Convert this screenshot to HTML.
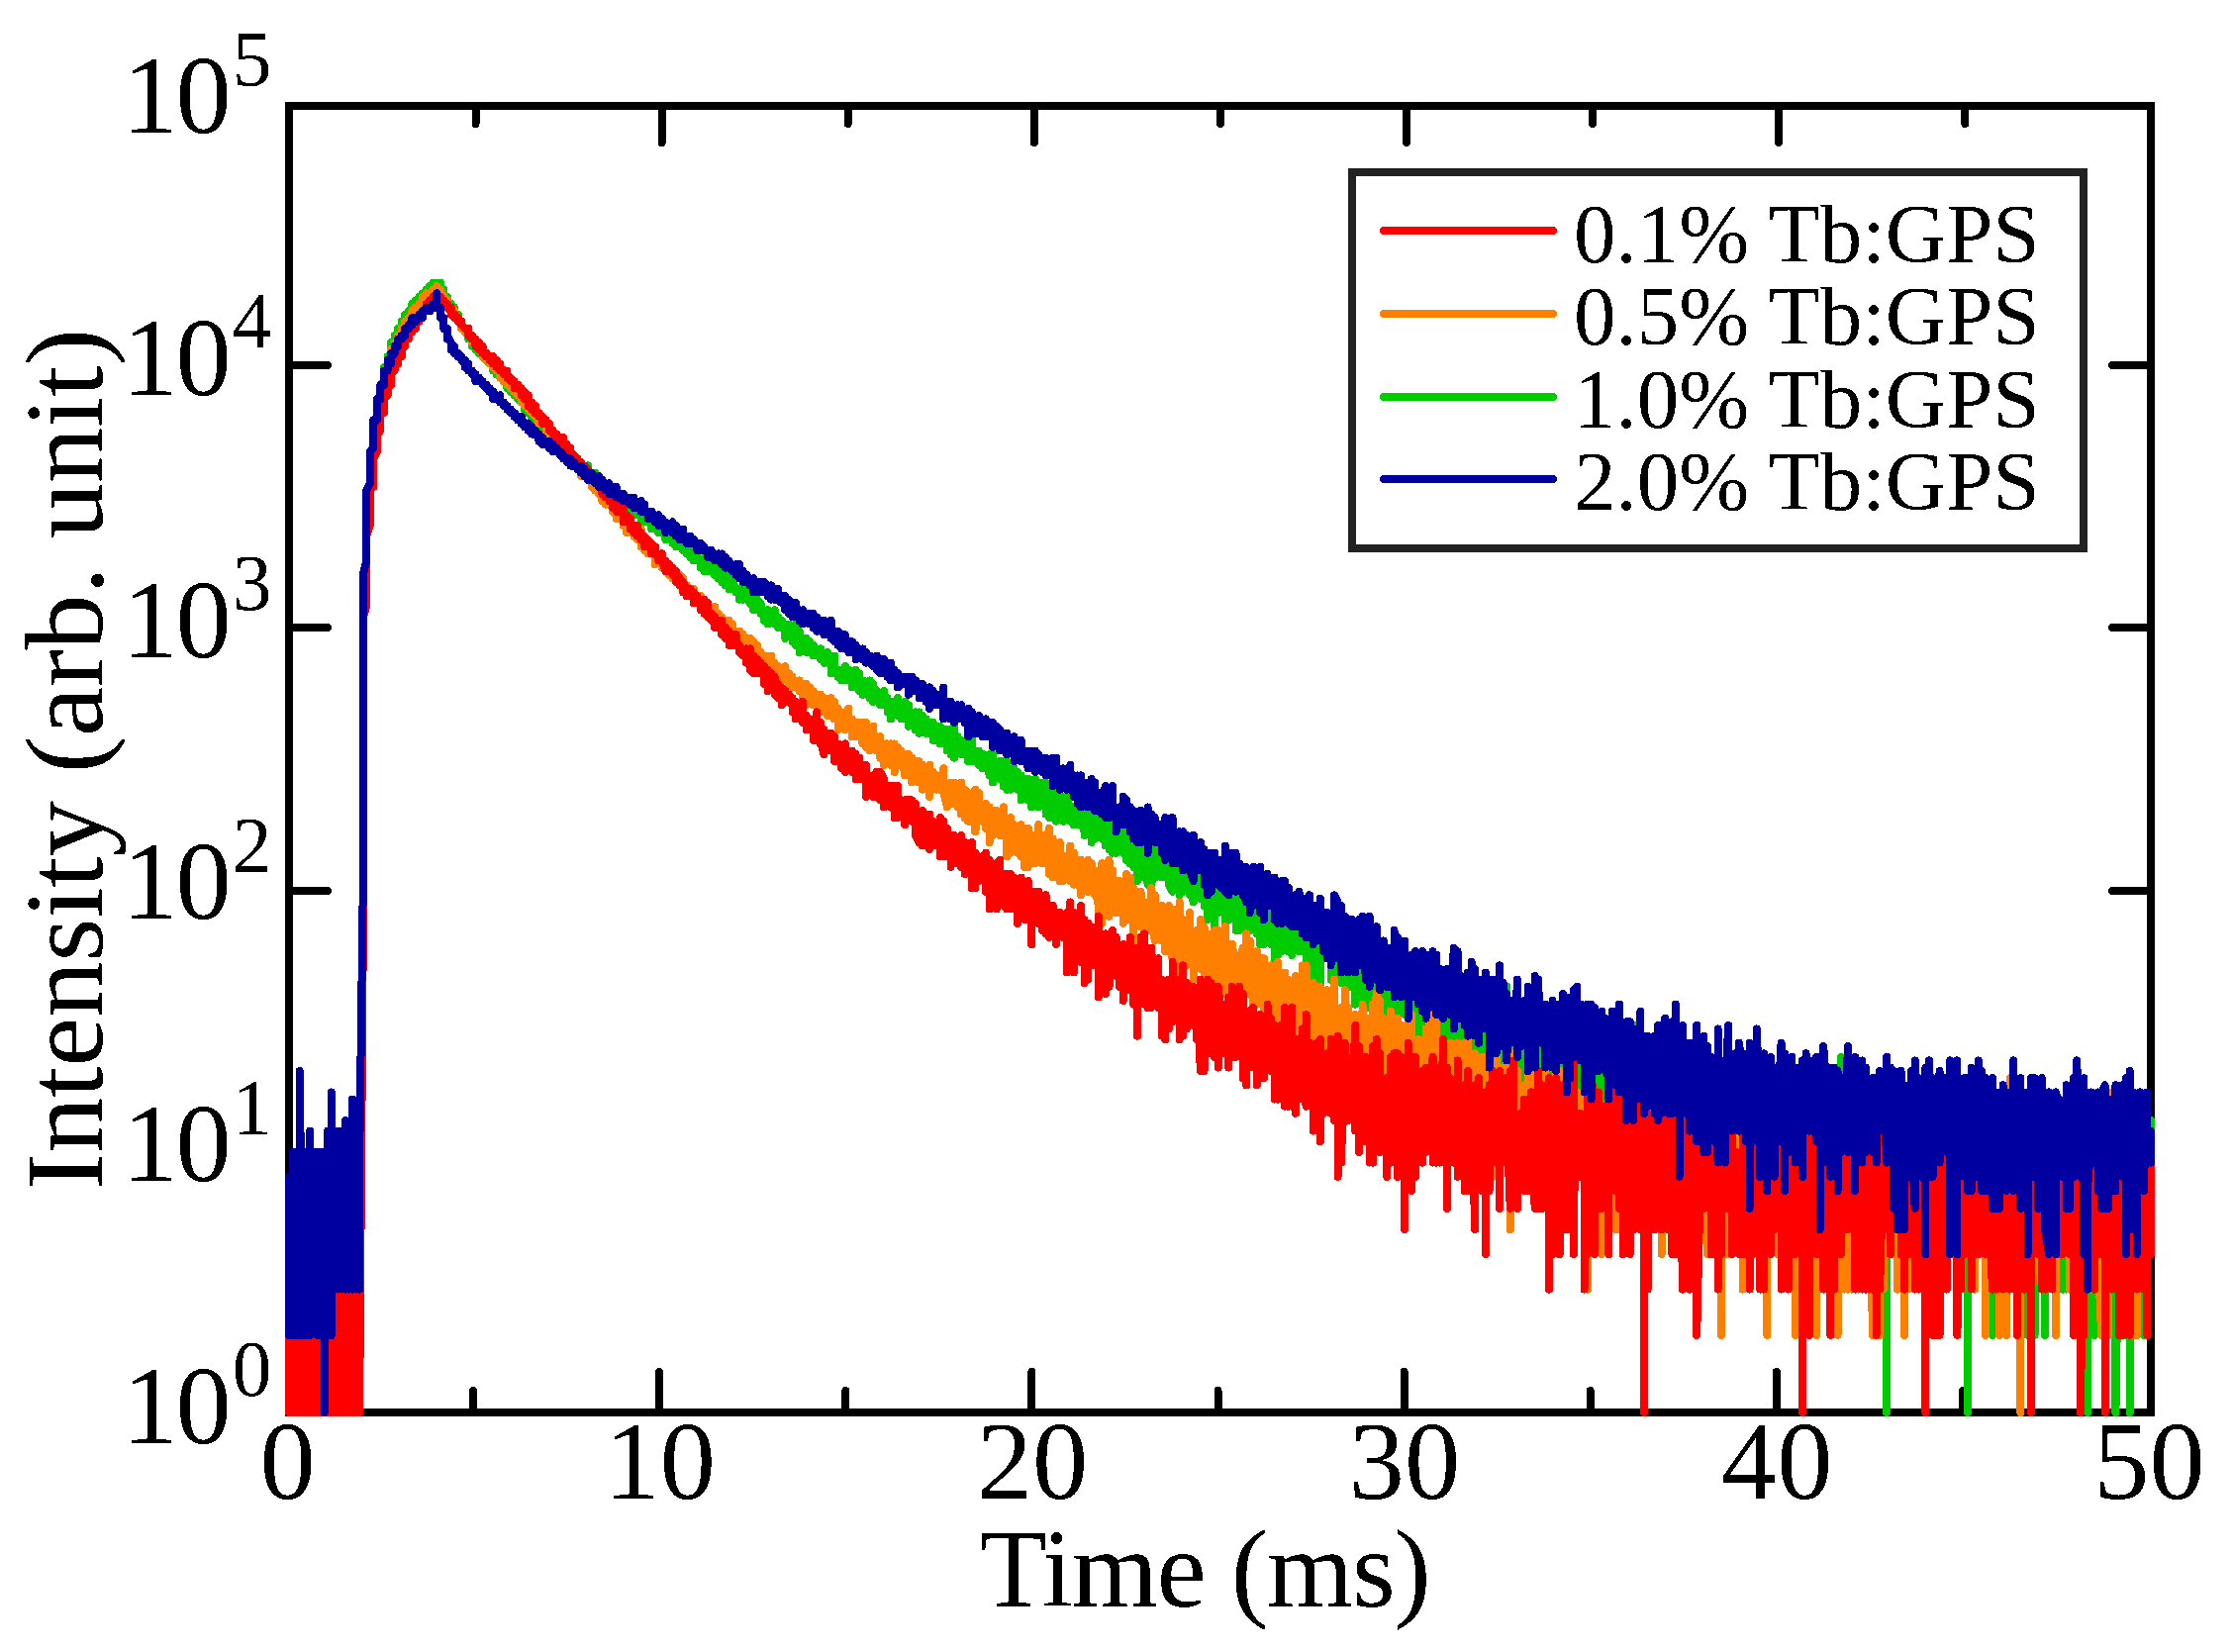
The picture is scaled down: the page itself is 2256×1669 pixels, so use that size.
<!DOCTYPE html>
<html lang="en"><head><meta charset="utf-8"><title>Tb:GPS decay curves</title>
<style>html,body{margin:0;padding:0;background:#fff}svg{display:block}</style></head>
<body>
<svg width="2256" height="1669" viewBox="0 0 2256 1669">
<rect width="2256" height="1669" fill="#fff"/>
<g fill="none" stroke="#000" stroke-width="8" stroke-linecap="round" shape-rendering="crispEdges">
<rect x="292" y="107" width="1881" height="1320" stroke-linejoin="miter"/>
<path d="M480.5 107 V125 M478.1 1427 V1405"/>
<path d="M668.6 107 V144 M666.2 1427 V1386"/>
<path d="M856.7 107 V125 M854.3 1427 V1405"/>
<path d="M1044.8 107 V144 M1042.4 1427 V1386"/>
<path d="M1232.9 107 V125 M1230.5 1427 V1405"/>
<path d="M1421.0 107 V144 M1418.6 1427 V1386"/>
<path d="M1609.1 107 V125 M1606.7 1427 V1405"/>
<path d="M1797.2 107 V144 M1794.8 1427 V1386"/>
<path d="M1985.3 107 V125 M1982.9 1427 V1405"/>
<path d="M292 1165 h39 M2173 1165 h-39"/>
<path d="M292 900 h39 M2173 900 h-39"/>
<path d="M292 634 h39 M2173 634 h-39"/>
<path d="M292 369 h39 M2173 369 h-39"/>
</g>
<clipPath id="c"><rect x="288" y="103" width="1889" height="1328"/></clipPath>
<g clip-path="url(#c)" fill="none" stroke-width="8" stroke-linejoin="round" stroke-linecap="round" shape-rendering="crispEdges">
<path stroke="#00CC00" d="M292 1427H295.6V1302.6V1427L299.1 1348.8V1427V1348.8L302.7 1427V1302.6V1348.8L306.2 1427V1302.6L309.8 1427V1302.6V1427H313.3V1348.8V1427L316.9 1348.8V1427V1267L320.4 1427V1348.8L324 1427V1267V1302.6L327.6 1348.8V1427V1302.6V1427H331.1V1348.8L334.7 1427H338.2V1242.1V1427H341.8V1348.8V1427H345.3V1242.1V1427H348.9V1348.8V1427H352.4V1242.1V1427H356V1348.8V1427H359.6H363.1V1267V1427L366.7 890.1V584.3L370.2 573.7V495.4L373.8 491.9V459.9L377.3 449.2V424.3H380.9V403L384.4 399.4V388.8L388 385.2V371H391.6V360.3H395.1V346.1V349.7H398.7V339V342.5L402.2 339V331.9H405.8V324.8H409.3V317.7H412.9V314.1L416.4 310.5V307V310.5L420 307V303.4V307L423.6 303.4V299.9H427.1V296.3H430.7V292.8H434.2V289.2H437.8V285.7V289.2L441.3 285.7V289.2V285.7H444.9V292.8H448.4V299.9H452V307H455.6V314.1L459.1 310.5V317.7H462.7V324.8H466.2V331.9H469.8V335.4L473.3 339V342.5H476.9V349.7V346.1L480.4 349.7V346.1V353.2H484V356.8H487.6V360.3L491.1 363.9V360.3V363.9L494.7 367.4V363.9V367.4H498.2V374.5H501.8V378.1H505.3V381.7H508.9V385.2H512.4V392.3H516V395.9V392.3H519.6V399.4V395.9L523.1 403V399.4V403L526.7 406.5V403V406.5H530.2V413.7H533.8V417.2L537.3 413.7V424.3V417.2L540.9 420.8V424.3H544.4V427.9L548 431.4V427.9V431.4L551.6 435V431.4V435H555.1V442.1V438.5H558.7V445.7V442.1L562.2 445.7V449.2V445.7H565.8V452.8V449.2L569.3 452.8V456.3H572.9V452.8V459.9L576.4 456.3V463.4H580V459.9V467V463.4H583.6V470.5V467H587.1V470.5H590.7V474.1L594.2 470.5V477.7H597.8V481.2L601.3 477.7V488.3L604.9 484.8V481.2V488.3V484.8L608.4 488.3V484.8V488.3L612 491.9V488.3V495.4H615.6V491.9V499V495.4H619.1V499V495.4L622.7 502.5V495.4V502.5H626.2V499V506.1V502.5H629.8V513.2V502.5L633.3 506.1V509.7H636.9V513.2L640.4 509.7V516.8V513.2L644 516.8V513.2V520.3V516.8H647.6V523.9V520.3L651.1 523.9V520.3V527.4V520.3L654.7 523.9V527.4V523.9L658.2 527.4V523.9V534.5L661.8 527.4V531H665.3V538.1V531H668.9V538.1V534.5H672.4V531V545.2L676 538.1V534.5V545.2L679.6 541.7V548.8V538.1V545.2H683.1V541.7V552.3V545.2H686.7V552.3H690.2V555.9V545.2V555.9L693.8 552.3V559.4V555.9L697.3 552.3V563V559.4L700.9 555.9V566.5V559.4L704.4 563V559.4V566.5V563L708 570.1V566.5V573.7L711.6 563V577.2V570.1L715.1 577.2V570.1V573.7H718.7V577.2L722.2 573.7V580.8V577.2L725.8 580.8V570.1V584.3V580.8H729.3V587.9V584.3H732.9V591.4V580.8L736.5 584.3V595V580.8V584.3L740 595V587.9L743.6 595V598.5V595H747.1V605.7V602.1L750.7 598.5V595V605.7L754.2 602.1V605.7V598.5V602.1L757.8 605.7V609.2V602.1V609.2L761.3 612.8V602.1V616.3V609.2H764.9V605.7V616.3V612.8L768.5 609.2V619.9V616.3H772V627V619.9H775.6V616.3V630.5V619.9H779.1V627V619.9L782.7 623.4V616.3V630.5L786.2 627V623.4V634.1V627L789.8 630.5V627V634.1V630.5L793.3 634.1V644.8V630.5V637.7L796.9 634.1V641.2V630.5V637.7L800.5 634.1V648.3L804 641.2V630.5V651.9V644.8L807.6 648.3V659V637.7V644.8L811.1 648.3V644.8V655.4V648.3L814.7 644.8V659V655.4L818.2 651.9V648.3V659V655.4H821.8V651.9V662.5L825.3 659V655.4V662.5H828.9V666.1V655.4V659L832.5 669.7V662.5L836 669.7V659V662.5L839.6 666.1V680.3V676.8L843.1 673.2V662.5V680.3V673.2L846.7 680.3V683.9V676.8V680.3L850.2 676.8V687.4V683.9L853.8 680.3V673.2V687.4V676.8L857.3 680.3V676.8V687.4V683.9L860.9 687.4V680.3V694.5V687.4L864.5 676.8V694.5L868 687.4V680.3V698.1V687.4L871.6 694.5V687.4V701.7L875.1 698.1V701.7V691V698.1H878.7V687.4V705.2L882.2 698.1V708.8V691V694.5L885.8 698.1V705.2V698.1L889.3 701.7V712.3L892.9 708.8V698.1V712.3L896.5 708.8V719.4V705.2V708.8L900 723V708.8V726.5V723L903.6 712.3V708.8V715.9V712.3H907.1V705.2V723V719.4H910.7V712.3V726.5V723L914.2 708.8V726.5V723L917.8 719.4V712.3V733.7V719.4L921.3 723V730.1H924.9V719.4V737.2V726.5L928.5 730.1V719.4V740.8V733.7L932 737.2V723V730.1L935.6 733.7V726.5V740.8V733.7H939.1V740.8V730.1V733.7L942.7 730.1V747.9V733.7L946.2 744.3V737.2V747.9V737.2L949.8 740.8V733.7V751.4V747.9H953.3V751.4V737.2V751.4L956.9 744.3V737.2V758.5V751.4L960.5 740.8V737.2V762.1L964 751.4V733.7V765.7V762.1L967.6 758.5V744.3V758.5H971.1V747.9V762.1V747.9L974.7 758.5V762.1V751.4L978.2 747.9V769.2V758.5L981.8 755V769.2V744.3V758.5L985.3 769.2V758.5V762.1L988.9 765.7V772.8V758.5V769.2H992.5V776.3V762.1V776.3L996 765.7V776.3V765.7L999.6 783.4V762.1V772.8L1003.1 783.4V762.1V790.5V783.4L1006.7 772.8V779.9V776.3L1010.2 783.4V787V769.2V779.9L1013.8 772.8V794.1V769.2H1017.3V797.7V783.4L1020.9 790.5V797.7V779.9V790.5L1024.5 783.4V776.3V794.1L1028 790.5V779.9V797.7V787L1031.6 797.7V783.4V808.3L1035.1 787V801.2V787L1038.7 794.1V808.3V787L1042.2 801.2V794.1V815.4V804.8L1045.8 794.1V811.9V787V794.1L1049.3 811.9V797.7V815.4V808.3L1052.9 801.2V808.3V790.5V804.8H1056.5V822.5V790.5L1060 797.7V826.1V804.8L1063.6 808.3V797.7V826.1L1067.1 801.2V787V829.7V801.2L1070.7 804.8V819V811.9H1074.2V829.7V804.8L1077.8 811.9V826.1V804.8L1081.3 819V829.7V819L1084.9 826.1V815.4V833.2L1088.5 826.1V811.9V833.2L1092 804.8V829.7L1095.6 840.3V811.9V843.9V840.3H1099.1V815.4V833.2H1102.7V851V822.5V826.1L1106.2 843.9V829.7V847.4V840.3L1109.8 829.7V843.9V826.1L1113.3 829.7V822.5V847.4L1116.9 851V854.5V822.5L1120.5 851V829.7V858.1V854.5L1124 833.2V861.7V829.7V840.3H1127.6V833.2V861.7V847.4H1131.1V840.3V858.1V851L1134.7 847.4V861.7V843.9L1138.2 851V833.2V868.8V854.5L1141.8 840.3V872.3V854.5L1145.3 851V875.9V843.9L1148.9 861.7V843.9V890.1V865.2L1152.5 843.9V886.5V861.7L1156 879.4V851V886.5V868.8L1159.6 893.7V847.4V858.1L1163.1 865.2V836.8V893.7L1166.7 875.9V886.5V858.1V868.8L1170.2 865.2V883V843.9V883L1173.8 872.3V865.2V886.5V875.9L1177.3 883V886.5V868.8L1180.9 858.1V893.7L1184.5 900.8V868.8V897.2L1188 875.9V872.3V893.7V886.5H1191.6V865.2V904.3V893.7L1195.1 886.5V872.3V900.8V893.7H1198.7V872.3V883H1202.2V879.4V904.3V897.2L1205.8 911.4V868.8V890.1L1209.3 886.5V900.8V868.8L1212.9 875.9V907.9V890.1L1216.5 893.7V872.3V915V875.9L1220 883V929.2V890.1L1223.6 886.5V918.5V883V890.1L1227.1 893.7V936.3V886.5L1230.7 922.1V890.1V915L1234.2 918.5V893.7V900.8L1237.8 904.3V943.4V900.8L1241.3 918.5V897.2V929.2V904.3L1244.9 900.8V922.1V893.7V915H1248.5V939.9V886.5L1252 897.2V939.9V911.4L1255.6 918.5V907.9V936.3V929.2L1259.1 932.8V893.7V925.7H1262.7V907.9V939.9V929.2L1266.2 915V932.8V907.9V911.4L1269.8 943.4V907.9V911.4L1273.3 915V954.1V932.8L1276.9 925.7V954.1V911.4V932.8L1280.5 925.7V922.1V939.9V922.1L1284 943.4V954.1V900.8V929.2L1287.6 922.1V968.3V918.5V929.2H1291.1V922.1V964.8L1294.7 939.9V929.2V961.2L1298.2 957.7V918.5V947L1301.8 939.9V929.2V961.2V954.1L1305.3 947V918.5V964.8L1308.9 947V932.8V950.5V939.9L1312.5 961.2V915V929.2L1316 954.1V961.2V925.7V950.5L1319.6 932.8V971.9V932.8L1323.1 939.9V989.7V957.7L1326.7 939.9V929.2V975.4V947L1330.2 961.2V996.8V918.5V964.8L1333.8 943.4V925.7V1000.3V961.2L1337.3 954.1V939.9V964.8V947L1340.9 943.4V968.3V954.1L1344.5 964.8V939.9V989.7V975.4L1348 961.2V943.4V982.5V947H1351.6V979V971.9L1355.1 968.3V950.5V993.2V971.9H1358.7V939.9V989.7V975.4L1362.2 971.9V996.8V950.5V964.8H1365.8V996.8V954.1L1369.3 943.4V1014.6V993.2L1372.9 996.8V947V1000.3V975.4H1376.5V1014.6V961.2V979L1380 968.3V964.8V1011V971.9L1383.6 986.1V954.1V1018.1L1387.1 1007.4V961.2V1018.1V979L1390.7 1018.1V947V975.4L1394.2 979V1011V964.8L1397.8 1003.9V986.1V1039.4V1000.3L1401.3 982.5V961.2V1021.7V982.5L1404.9 993.2V982.5V1046.6L1408.5 1000.3V964.8V989.7L1412 1000.3V982.5V1035.9V1028.8L1415.6 1014.6V989.7V1003.9H1419.1V975.4V1025.2L1422.7 964.8V1035.9V1028.8L1426.2 986.1V1046.6V979V1000.3L1429.8 1003.9V989.7V1078.6V1014.6L1433.3 989.7V1046.6V986.1L1436.9 1011V989.7V1057.2V1018.1L1440.5 1014.6V989.7V1018.1V1014.6L1444 1000.3V1057.2L1447.6 1050.1V982.5V996.8L1451.1 1053.7V993.2V1021.7L1454.7 1053.7V1007.4V1014.6L1458.2 1007.4V989.7V1067.9V1046.6H1461.8V1067.9V996.8V1021.7L1465.3 989.7V1053.7V1021.7L1468.9 1039.4V1007.4V1050.1V1039.4L1472.5 1014.6V996.8V1050.1V1021.7L1476 1035.9V1064.3V1018.1V1039.4L1479.6 1014.6V989.7V1064.3L1483.1 1025.2V1000.3V1082.1V1011L1486.7 1071.4V1014.6V1078.6V1018.1L1490.2 1064.3V1014.6V1025.2L1493.8 1028.8V1003.9V1057.2V1021.7L1497.3 1028.8V1067.9V996.8V1018.1L1500.9 1028.8V1007.4V1089.2L1504.5 1046.6V1028.8V1078.6V1064.3L1508 1014.6V1071.4V1057.2L1511.6 1014.6V1103.4V993.2L1515.1 1057.2V1071.4V1039.4V1067.9H1518.7V1014.6V1089.2V1078.6L1522.2 1053.7V996.8V1089.2V1046.6H1525.8V1082.1V1028.8L1529.3 1035.9V1089.2V1067.9L1532.9 1071.4V1078.6V1014.6L1536.5 1035.9V1103.4L1540 1078.6V1131.9V1028.8L1543.6 1071.4V1039.4V1153.2L1547.1 1103.4V1021.7V1053.7L1550.7 1089.2V1050.1V1078.6L1554.2 1064.3V1089.2V993.2V1046.6L1557.8 1082.1V1039.4V1110.6L1561.3 1103.4V1028.8V1064.3L1564.9 1050.1V1028.8V1103.4L1568.5 1131.9V1053.7V1067.9L1572 1046.6V1032.3V1110.6V1096.3L1575.6 1110.6V1064.3V1124.8V1082.1L1579.1 1021.7V1103.4V1057.2L1582.7 1064.3V1110.6H1586.2V1028.8V1082.1L1589.8 1064.3V1050.1V1103.4L1593.3 1096.3V1142.6V1050.1L1596.9 1078.6V1124.8V1089.2L1600.5 1078.6V1124.8V1064.3V1067.9L1604 1064.3V1050.1V1153.2V1089.2L1607.6 1064.3V1032.3V1117.7V1096.3L1611.1 1089.2V1057.2V1174.6V1067.9L1614.7 1124.8V1032.3L1618.2 1110.6V1064.3V1142.6V1110.6L1621.8 1053.7V1124.8V1082.1L1625.4 1071.4V1163.9V1103.4L1628.9 1071.4V1053.7V1163.9V1078.6L1632.5 1131.9V1071.4V1117.7L1636 1064.3V1153.2V1096.3L1639.6 1174.6V1064.3V1082.1L1643.1 1089.2V1067.9V1131.9V1096.3L1646.7 1131.9V1153.2V1064.3V1082.1L1650.2 1131.9V1035.9V1096.3L1653.8 1103.4V1163.9V1046.6V1103.4H1657.4V1153.2V1089.2V1096.3L1660.9 1082.1V1124.8V1078.6L1664.5 1082.1V1203L1668 1163.9V1203V1071.4V1153.2L1671.6 1078.6V1188.8V1067.9V1117.7L1675.1 1096.3V1057.2V1188.8V1110.6L1678.7 1131.9V1174.6V1082.1V1103.4H1682.2V1203L1685.8 1110.6V1078.6V1174.6V1103.4L1689.4 1131.9V1103.4V1188.8V1117.7L1692.9 1124.8V1203V1096.3V1131.9L1696.5 1174.6V1067.9V1103.4L1700 1131.9V1082.1V1163.9V1103.4L1703.6 1124.8V1174.6V1110.6V1131.9L1707.1 1117.7V1153.2V1096.3V1124.8L1710.7 1220.8V1096.3V1163.9L1714.2 1131.9V1082.1V1174.6L1717.8 1082.1V1163.9V1142.6L1721.4 1163.9V1203V1096.3V1124.8L1724.9 1220.8V1103.4V1163.9L1728.5 1117.7V1188.8V1153.2L1732 1163.9V1174.6V1096.3L1735.6 1117.7V1067.9V1153.2L1739.1 1203V1078.6V1124.8L1742.7 1188.8V1071.4L1746.2 1163.9V1174.6V1124.8V1131.9L1749.8 1188.8V1096.3V1188.8L1753.4 1082.1V1203V1131.9L1756.9 1220.8V1071.4V1203L1760.5 1174.6V1242.1V1110.6V1242.1L1764 1174.6V1220.8V1110.6V1131.9L1767.6 1188.8V1117.7V1203L1771.1 1153.2V1131.9V1242.1V1220.8L1774.7 1188.8V1096.3V1220.8V1163.9L1778.2 1203V1242.1V1110.6V1124.8L1781.8 1142.6V1103.4V1203V1174.6L1785.4 1142.6V1131.9V1220.8L1788.9 1142.6V1117.7V1220.8L1792.5 1131.9V1203V1117.7V1153.2L1796 1103.4V1089.2V1188.8V1103.4L1799.6 1131.9V1103.4V1220.8V1153.2L1803.1 1174.6V1267V1117.7V1163.9L1806.7 1203V1131.9V1142.6L1810.2 1203V1131.9V1220.8V1174.6L1813.8 1267V1117.7V1242.1L1817.4 1188.8V1110.6V1220.8V1163.9L1820.9 1174.6V1124.8V1267V1174.6H1824.5V1203V1117.7V1174.6L1828 1163.9V1242.1V1103.4V1203L1831.6 1302.6V1096.3V1124.8L1835.1 1203V1131.9V1163.9L1838.7 1203V1117.7V1131.9L1842.2 1174.6V1203V1131.9L1845.8 1163.9V1117.7V1203V1188.8L1849.4 1242.1V1124.8V1188.8L1852.9 1163.9V1131.9V1267L1856.5 1131.9V1242.1V1203L1860 1174.6V1220.8V1067.9V1188.8L1863.6 1220.8V1096.3V1267V1203L1867.1 1174.6V1142.6V1242.1V1163.9L1870.7 1220.8V1153.2V1242.1L1874.2 1163.9V1242.1V1163.9L1877.8 1089.2V1267L1881.4 1174.6V1188.8V1131.9L1884.9 1220.8V1174.6V1267V1174.6L1888.5 1163.9V1242.1V1203L1892 1163.9V1242.1V1220.8H1895.6V1242.1V1131.9V1242.1H1899.1V1124.8V1302.6L1902.7 1220.8V1163.9V1302.6V1203L1906.2 1188.8V1124.8V1427V1163.9L1909.8 1188.8V1153.2V1267V1188.8L1913.4 1203V1153.2V1267V1188.8L1916.9 1131.9V1267L1920.5 1174.6V1124.8V1220.8L1924 1242.1V1131.9V1267V1174.6L1927.6 1188.8V1203V1153.2V1163.9L1931.1 1242.1V1131.9V1188.8L1934.7 1163.9V1267V1142.6V1203H1938.2V1153.2V1302.6V1220.8L1941.8 1242.1V1142.6V1220.8L1945.4 1153.2V1348.8V1242.1L1948.9 1153.2V1267V1124.8V1174.6L1952.5 1188.8V1302.6V1131.9V1220.8L1956 1348.8V1124.8L1959.6 1203V1267V1142.6V1203L1963.1 1174.6V1302.6L1966.7 1203V1153.2V1267V1242.1L1970.2 1220.8V1267V1153.2V1267L1973.8 1220.8V1163.9V1188.8L1977.4 1153.2V1142.6V1267V1174.6L1980.9 1188.8V1302.6V1103.4L1984.5 1163.9V1203V1153.2V1203L1988 1220.8V1427V1153.2V1188.8L1991.6 1153.2V1131.9V1220.8V1203L1995.1 1242.1V1302.6V1142.6L1998.7 1163.9V1153.2V1220.8L2002.2 1188.8V1267V1163.9V1220.8L2005.8 1188.8V1163.9V1267V1174.6L2009.4 1242.1V1131.9V1153.2L2012.9 1163.9V1348.8V1188.8L2016.5 1163.9V1142.6V1267V1242.1L2020 1153.2V1242.1V1174.6L2023.6 1142.6V1302.6V1188.8H2027.1V1348.8V1163.9V1302.6H2030.7V1142.6V1220.8L2034.2 1203V1267V1153.2L2037.8 1302.6V1163.9V1242.1H2041.4V1163.9V1267V1163.9L2044.9 1267V1153.2L2048.5 1174.6V1348.8L2052 1188.8V1267V1142.6V1153.2L2055.6 1174.6V1131.9V1348.8V1203H2059.1V1242.1V1142.6V1242.1L2062.7 1203V1153.2V1242.1L2066.2 1188.8V1348.8V1142.6L2069.8 1242.1V1302.6V1153.2V1203L2073.4 1163.9V1131.9V1220.8V1203L2076.9 1242.1V1188.8V1302.6V1188.8L2080.5 1267V1163.9V1220.8L2084 1302.6V1124.8V1163.9L2087.6 1220.8V1302.6V1142.6V1267L2091.1 1142.6V1267V1188.8L2094.7 1267V1142.6V1163.9L2098.2 1174.6V1142.6V1267V1203L2101.8 1174.6V1302.6V1153.2L2105.4 1174.6V1348.8V1188.8H2108.9V1153.2V1427V1220.8L2112.5 1163.9V1242.1V1203L2116 1188.8V1348.8L2119.6 1242.1V1267V1131.9V1267L2123.1 1188.8V1348.8V1163.9V1188.8L2126.7 1242.1V1267V1131.9V1203L2130.2 1302.6V1163.9L2133.8 1188.8V1267V1163.9V1203L2137.4 1302.6V1153.2V1427L2140.9 1203V1242.1V1131.9V1188.8L2144.5 1174.6V1163.9V1242.1L2148 1153.2V1348.8V1220.8L2151.6 1188.8V1174.6V1427V1203H2155.1V1153.2V1302.6V1242.1L2158.7 1163.9V1267V1142.6L2162.2 1124.8V1242.1L2165.8 1203V1348.8V1153.2V1242.1L2169.4 1142.6V1302.6V1203L2172.9 1131.9V1242.1"/>
<path stroke="#FF8000" d="M292 1427L295.6 1348.8V1427V1267V1427L299.1 1302.6V1427V1267V1427L302.7 1267V1427V1348.8L306.2 1427V1302.6V1427L309.8 1348.8V1302.6V1427V1302.6L313.3 1348.8V1427V1348.8L316.9 1427V1302.6V1427L320.4 1348.8V1427L324 1348.8V1427L327.6 1348.8V1427V1302.6V1427H331.1V1220.8V1427H334.7V1348.8V1427L338.2 1348.8V1427V1242.1V1348.8L341.8 1427V1267V1427L345.3 1302.6V1427L348.9 1302.6V1427V1348.8L352.4 1427V1302.6L356 1348.8V1427V1302.6V1427H359.6V1267L363.1 1427V1348.8V1427L366.7 915V591.4L370.2 584.3V509.7L373.8 502.5V467L377.3 463.4V431.4H380.9V413.7V417.2L384.4 410.1V395.9L388 392.3V378.1H391.6V367.4H395.1V353.2L398.7 356.8V346.1H402.2V339H405.8V331.9H409.3V324.8H412.9V321.2H416.4V314.1V317.7L420 314.1V310.5H423.6V307H427.1V299.9L430.7 303.4V296.3L434.2 299.9V296.3V299.9L437.8 296.3V292.8H441.3V289.2V292.8H444.9V296.3L448.4 299.9V303.4H452V310.5H455.6V314.1H459.1V321.2H462.7V324.8H466.2V331.9H469.8V335.4H473.3V339L476.9 342.5V339V346.1H480.4V349.7H484V353.2H487.6V360.3V356.8L491.1 360.3V356.8V363.9L494.7 360.3V367.4H498.2V371H501.8V374.5H505.3V381.7V378.1H508.9V385.2L512.4 381.7V388.8H516V392.3V388.8L519.6 392.3V395.9H523.1V399.4H526.7V406.5H530.2V410.1H533.8V413.7L537.3 417.2V413.7V417.2L540.9 420.8V417.2V420.8L544.4 424.3V420.8V427.9V424.3H548V427.9H551.6V435H555.1V438.5V435L558.7 438.5V445.7L562.2 442.1V449.2L565.8 445.7V452.8V449.2L569.3 452.8V456.3H572.9V459.9H576.4V467H580V463.4V470.5L583.6 467V474.1V470.5L587.1 474.1V467V481.2L590.7 477.7V481.2H594.2V484.8L597.8 481.2V491.9L601.3 484.8V495.4V491.9H604.9V499V495.4L608.4 499V495.4V506.1V502.5L612 506.1V499V509.7L615.6 506.1V509.7L619.1 513.2V509.7V516.8L622.7 520.3V513.2V523.9V516.8L626.2 520.3V516.8V523.9L629.8 520.3V531V523.9L633.3 531V523.9V538.1V531H636.9V538.1L640.4 534.5V541.7V538.1H644V545.2H647.6V534.5V552.3V545.2L651.1 548.8V545.2V555.9V552.3L654.7 555.9V548.8V559.4V552.3H658.2V559.4H661.8V555.9V570.1V563H665.3V559.4V566.5L668.9 563V573.7V566.5L672.4 570.1V573.7V570.1L676 573.7V570.1V580.8H679.6V584.3V573.7V584.3L683.1 580.8V587.9V584.3L686.7 587.9V580.8V587.9H690.2V584.3V595V591.4L693.8 595V591.4V598.5V595H697.3V602.1V598.5H700.9V609.2V595V605.7H704.4V602.1V609.2V602.1L708 605.7V602.1V616.3V609.2H711.6V619.9V605.7L715.1 616.3V609.2V623.4V612.8L718.7 619.9V616.3V623.4L722.2 612.8V627V619.9L725.8 623.4V619.9V630.5V623.4L729.3 630.5V623.4V634.1V630.5H732.9V627V637.7V634.1H736.5V641.2V627V634.1L740 630.5V641.2V637.7L743.6 651.9V637.7L747.1 644.8V637.7V648.3L750.7 644.8V641.2V651.9V648.3H754.2V655.4V644.8V655.4L757.8 651.9V644.8V659V644.8L761.3 655.4V662.5V648.3L764.9 659V651.9V666.1V655.4L768.5 666.1V659V669.7L772 662.5V673.2V666.1H775.6V676.8V662.5V676.8L779.1 673.2V662.5V676.8L782.7 669.7V680.3V673.2L786.2 676.8V680.3V673.2V680.3H789.8V683.9V676.8L793.3 673.2V687.4V683.9L796.9 691V680.3V683.9L800.5 694.5V683.9V687.4L804 691V694.5V687.4L807.6 698.1V687.4V698.1L811.1 691V705.2V701.7H814.7V691V712.3V701.7L818.2 705.2V694.5V708.8L821.8 705.2V712.3V698.1L825.3 708.8V712.3V701.7V705.2L828.9 715.9V719.4V701.7V708.8L832.5 715.9V719.4V705.2V712.3L836 708.8V723L839.6 719.4V705.2V723V712.3L843.1 708.8V726.5V715.9H846.7V737.2V719.4L850.2 730.1V719.4V733.7V730.1L853.8 719.4V737.2V723L857.3 726.5V733.7V715.9V726.5H860.9V744.3V733.7L864.5 730.1V744.3L868 733.7V740.8V730.1V737.2L871.6 751.4V730.1V747.9L875.1 730.1V755V740.8L878.7 737.2V758.5L882.2 747.9V733.7V751.4V747.9L885.8 755V744.3V758.5V747.9L889.3 751.4V744.3V765.7V758.5L892.9 755V772.8V762.1L896.5 751.4V769.2V751.4L900 755V772.8V751.4V755L903.6 765.7V779.9V751.4V769.2H907.1V772.8V755V769.2L910.7 758.5V772.8L914.2 779.9V783.4V762.1V765.7H917.8V779.9V762.1V776.3L921.3 783.4V765.7V790.5V772.8H924.9V769.2V787V772.8L928.5 783.4V769.2V790.5V772.8H932V797.7V772.8L935.6 783.4V776.3V794.1V783.4L939.1 779.9V772.8V804.8V779.9L942.7 783.4V794.1V779.9V787L946.2 783.4V797.7L949.8 787V797.7V790.5L953.3 801.2V776.3V801.2L956.9 815.4V794.1L960.5 801.2V790.5V811.9V804.8L964 797.7V811.9V790.5V797.7L967.6 794.1V815.4V797.7L971.1 811.9V790.5V822.5V804.8L974.7 822.5V797.7V826.1V815.4L978.2 801.2V829.7V826.1L981.8 819V804.8V829.7L985.3 819V797.7V840.3L988.9 808.3V829.7V801.2V826.1L992.5 819V829.7V815.4L996 822.5V811.9V836.8L999.6 833.2V815.4V851L1003.1 826.1V843.9V819V822.5L1006.7 840.3V819V829.7L1010.2 822.5V843.9L1013.8 840.3V843.9V815.4V843.9L1017.3 829.7V865.2V836.8H1020.9V861.7V826.1V851L1024.5 836.8V851V833.2L1028 840.3V836.8V861.7V851L1031.6 847.4V833.2V865.2V858.1L1035.1 843.9V875.9V861.7L1038.7 840.3V836.8V875.9V858.1H1042.2V865.2V843.9V847.4H1045.8V872.3L1049.3 833.2V865.2L1052.9 861.7V872.3V843.9V861.7L1056.5 854.5V847.4V868.8V858.1L1060 836.8V883L1063.6 865.2V847.4V886.5V872.3L1067.1 875.9V861.7V865.2H1070.7V851V890.1V886.5L1074.2 890.1V865.2V875.9H1077.8V865.2V886.5V872.3L1081.3 886.5V854.5V890.1V872.3L1084.9 865.2V861.7V893.7V879.4L1088.5 883V893.7V868.8V886.5H1092V904.3V868.8V879.4L1095.6 872.3V897.2V879.4L1099.1 875.9V900.8V868.8L1102.7 886.5V872.3V893.7V883L1106.2 893.7V904.3V879.4V897.2L1109.8 915V925.7V883V886.5L1113.3 904.3V932.8V872.3V890.1L1116.9 904.3V886.5V915V900.8L1120.5 868.8V925.7V918.5L1124 897.2V915V879.4V893.7L1127.6 900.8V890.1V922.1V900.8L1131.1 890.1V922.1V893.7L1134.7 904.3V900.8V932.8L1138.2 904.3V925.7V883L1141.8 918.5V886.5V929.2V897.2H1145.3V954.1V897.2L1148.9 904.3V929.2V904.3H1152.5V900.8V936.3L1156 929.2V918.5V939.9L1159.6 915V939.9V911.4V925.7L1163.1 911.4V939.9V897.2V925.7L1166.7 950.5V904.3V929.2L1170.2 936.3V947V922.1V932.8L1173.8 922.1V950.5V915V939.9H1177.3V922.1V961.2V925.7H1180.9V954.1V915V929.2L1184.5 968.3V922.1V950.5L1188 943.4V918.5V950.5L1191.6 929.2V911.4V989.7V947L1195.1 975.4V929.2V939.9L1198.7 936.3V932.8V975.4L1202.2 939.9V954.1V922.1V939.9L1205.8 950.5V947V989.7L1209.3 943.4V939.9V968.3V947L1212.9 961.2V979V929.2V936.3L1216.5 939.9V986.1V936.3L1220 961.2V989.7V947L1223.6 968.3V989.7V943.4V950.5L1227.1 961.2V939.9V989.7V947L1230.7 939.9V996.8V957.7L1234.2 964.8V954.1V975.4V954.1H1237.8V936.3V1003.9V964.8L1241.3 957.7V954.1V986.1V975.4L1244.9 961.2V1003.9V954.1L1248.5 982.5V964.8V993.2L1252 975.4V993.2V964.8V989.7L1255.6 957.7V1018.1V1000.3L1259.1 961.2V943.4V1003.9V986.1L1262.7 964.8V950.5V1003.9V954.1L1266.2 1021.7V971.9V1014.6L1269.8 1011V1014.6V961.2V1000.3L1273.3 986.1V968.3V1007.4V996.8L1276.9 989.7V1025.2V968.3V996.8L1280.5 986.1V982.5V1021.7V1011L1284 975.4V1025.2V989.7L1287.6 986.1V982.5V1025.2V993.2L1291.1 1039.4V971.9V1007.4L1294.7 1011V993.2V1025.2V1003.9L1298.2 1014.6V982.5V1032.3V993.2L1301.8 1003.9V989.7V1035.9V1000.3L1305.3 1007.4V1003.9V1053.7V1014.6L1308.9 1011V986.1V1035.9V1007.4L1312.5 1067.9V996.8V1053.7L1316 989.7V975.4V1053.7V1011L1319.6 1025.2V1039.4V975.4V1007.4L1323.1 1011V1032.3V1018.1L1326.7 1021.7V993.2V1046.6V1021.7L1330.2 1053.7V1071.4V1007.4V1021.7L1333.8 1035.9V996.8V1067.9V1039.4L1337.3 1007.4V1064.3V1050.1L1340.9 1035.9V1110.6V1000.3V1028.8L1344.5 1018.1V1078.6V1014.6V1039.4L1348 1046.6V989.7V1078.6V1053.7L1351.6 1035.9V1071.4V1053.7L1355.1 1050.1V1018.1V1071.4L1358.7 1035.9V1067.9V1000.3V1046.6H1362.2V1018.1V1089.2V1032.3L1365.8 1050.1V1089.2V1032.3L1369.3 1057.2V1025.2V1071.4L1372.9 1028.8V1096.3V1039.4L1376.5 1021.7V1014.6V1082.1V1050.1L1380 1089.2V1028.8V1096.3V1053.7L1383.6 1035.9V1089.2V1032.3V1067.9L1387.1 1035.9V1082.1V1014.6V1057.2L1390.7 1003.9V1078.6V1064.3L1394.2 1117.7V1011V1050.1L1397.8 1071.4V1078.6V1028.8V1078.6H1401.3V1035.9V1096.3V1082.1L1404.9 1071.4V1103.4V1021.7L1408.5 1046.6V1078.6V1032.3V1046.6L1412 1078.6V1028.8V1110.6L1415.6 1071.4V1142.6V1035.9V1067.9L1419.1 1131.9V1046.6L1422.7 1057.2V1117.7V1035.9V1110.6L1426.2 1089.2V1025.2V1131.9V1078.6L1429.8 1067.9V1053.7V1110.6V1067.9L1433.3 1117.7V1050.1V1131.9V1057.2L1436.9 1163.9V1071.4V1124.8L1440.5 1103.4V1124.8V1039.4V1053.7L1444 1078.6V1117.7V1025.2V1082.1L1447.6 1110.6V1039.4V1124.8V1110.6L1451.1 1124.8V1028.8V1096.3H1454.7V1057.2V1131.9V1082.1L1458.2 1071.4V1142.6V1082.1L1461.8 1089.2V1110.6V1064.3V1089.2L1465.3 1124.8V1053.7V1103.4L1468.9 1071.4V1163.9L1472.5 1053.7V1117.7V1064.3L1476 1142.6V1078.6V1082.1L1479.6 1124.8V1174.6V1053.7V1117.7L1483.1 1103.4V1188.8V1050.1V1131.9L1486.7 1089.2V1071.4V1163.9L1490.2 1064.3V1203L1493.8 1071.4V1124.8V1103.4L1497.3 1110.6V1067.9V1124.8V1089.2L1500.9 1078.6V1153.2V1067.9V1089.2L1504.5 1163.9V1057.2V1089.2L1508 1110.6V1188.8V1046.6L1511.6 1110.6V1163.9V1053.7V1124.8H1515.1V1096.3V1174.6V1103.4L1518.7 1117.7V1078.6V1174.6V1089.2L1522.2 1103.4V1153.2V1067.9V1153.2L1525.8 1163.9V1096.3V1242.1L1529.3 1096.3V1064.3V1188.8V1142.6L1532.9 1103.4V1082.1V1153.2L1536.5 1131.9V1188.8V1110.6V1117.7L1540 1174.6V1096.3V1131.9L1543.6 1117.7V1082.1V1153.2V1124.8L1547.1 1117.7V1131.9V1089.2V1110.6L1550.7 1082.1V1203V1131.9L1554.2 1089.2V1220.8V1142.6L1557.8 1110.6V1188.8V1096.3V1174.6L1561.3 1064.3V1188.8L1564.9 1142.6V1188.8V1096.3V1153.2L1568.5 1142.6V1124.8V1188.8V1131.9H1572V1220.8V1082.1V1124.8L1575.6 1163.9V1082.1V1124.8L1579.1 1131.9V1103.4V1220.8L1582.7 1124.8V1067.9V1203V1188.8L1586.2 1174.6V1089.2V1174.6L1589.8 1124.8V1203V1117.7H1593.3V1103.4V1174.6V1124.8L1596.9 1142.6V1110.6V1188.8V1163.9L1600.5 1117.7V1220.8V1117.7L1604 1110.6V1302.6V1117.7L1607.6 1203V1110.6V1242.1L1611.1 1153.2V1110.6V1188.8V1163.9L1614.7 1142.6V1124.8V1188.8V1124.8L1618.2 1174.6V1267V1117.7V1203L1621.8 1163.9V1131.9V1203V1163.9L1625.4 1242.1V1082.1L1628.9 1188.8V1203V1110.6L1632.5 1242.1V1110.6V1117.7L1636 1124.8V1103.4V1242.1V1174.6L1639.6 1188.8V1117.7L1643.1 1142.6V1096.3V1220.8V1131.9L1646.7 1188.8V1131.9V1220.8L1650.2 1153.2V1188.8V1117.7V1188.8L1653.8 1124.8V1117.7V1203L1657.4 1242.1V1131.9V1188.8L1660.9 1203V1124.8V1153.2L1664.5 1163.9V1110.6V1242.1L1668 1142.6V1131.9V1203V1142.6L1671.6 1174.6V1203V1131.9V1142.6L1675.1 1124.8V1188.8V1174.6L1678.7 1153.2V1131.9V1267L1682.2 1110.6V1220.8V1188.8H1685.8V1242.1V1103.4V1163.9L1689.4 1124.8V1096.3V1203V1153.2H1692.9V1124.8V1203V1188.8H1696.5V1242.1V1096.3V1163.9L1700 1153.2V1142.6V1267V1163.9L1703.6 1142.6V1220.8V1096.3V1188.8L1707.1 1096.3V1242.1V1110.6L1710.7 1163.9V1302.6V1142.6L1714.2 1203V1242.1V1153.2V1174.6L1717.8 1203V1131.9V1242.1V1153.2L1721.4 1203V1153.2V1174.6L1724.9 1267V1124.8V1174.6L1728.5 1267V1124.8V1267L1732 1188.8V1124.8V1220.8V1131.9L1735.6 1203V1142.6V1174.6L1739.1 1220.8V1142.6V1348.8V1174.6L1742.7 1082.1V1267V1242.1L1746.2 1267V1163.9V1203L1749.8 1242.1V1153.2V1188.8L1753.4 1242.1V1131.9V1188.8L1756.9 1203V1131.9V1242.1L1760.5 1174.6V1131.9V1302.6V1188.8L1764 1153.2V1188.8V1124.8V1174.6L1767.6 1142.6V1220.8V1096.3V1203L1771.1 1163.9V1267L1774.7 1242.1V1142.6V1174.6H1778.2V1242.1V1117.7L1781.8 1188.8V1142.6V1267V1188.8L1785.4 1242.1V1142.6V1348.8V1163.9L1788.9 1174.6V1124.8V1220.8V1174.6H1792.5V1142.6V1220.8V1188.8L1796 1117.7V1267V1188.8L1799.6 1220.8V1302.6V1124.8L1803.1 1220.8V1153.2V1242.1L1806.7 1203V1242.1V1153.2V1163.9L1810.2 1142.6V1220.8V1131.9V1220.8H1813.8V1131.9V1348.8L1817.4 1163.9V1267V1124.8V1153.2H1820.9V1117.7V1267V1124.8L1824.5 1220.8V1188.8V1267V1220.8L1828 1117.7V1348.8V1142.6H1831.6V1220.8V1124.8V1174.6L1835.1 1188.8V1348.8V1124.8V1131.9L1838.7 1302.6V1153.2V1188.8L1842.2 1142.6V1267V1131.9V1153.2L1845.8 1203V1142.6V1242.1V1174.6L1849.4 1142.6V1242.1L1852.9 1174.6V1142.6V1242.1V1188.8L1856.5 1174.6V1131.9V1348.8V1188.8L1860 1174.6V1124.8V1267V1203L1863.6 1267V1153.2V1302.6V1188.8L1867.1 1220.8V1302.6V1153.2V1163.9L1870.7 1174.6V1142.6V1302.6V1188.8L1874.2 1163.9V1302.6V1153.2V1242.1L1877.8 1188.8V1142.6V1302.6L1881.4 1188.8V1220.8V1163.9L1884.9 1302.6V1142.6V1242.1L1888.5 1142.6V1302.6V1174.6L1892 1348.8V1142.6V1220.8H1895.6V1131.9V1242.1V1142.6L1899.1 1153.2V1348.8V1142.6V1242.1L1902.7 1302.6V1153.2V1242.1L1906.2 1203V1242.1V1163.9V1220.8L1909.8 1142.6V1242.1V1124.8L1913.4 1203V1267V1153.2L1916.9 1220.8V1163.9V1302.6L1920.5 1163.9V1302.6V1153.2V1267L1924 1174.6V1142.6V1348.8V1242.1L1927.6 1267V1302.6V1163.9V1174.6L1931.1 1153.2V1142.6V1267L1934.7 1142.6V1302.6V1203L1938.2 1188.8V1220.8V1174.6L1941.8 1302.6V1163.9V1242.1H1945.4V1131.9V1427V1174.6H1948.9V1242.1V1220.8L1952.5 1153.2V1302.6V1188.8L1956 1267V1153.2V1302.6V1163.9L1959.6 1188.8V1131.9V1302.6V1153.2L1963.1 1203V1174.6V1302.6L1966.7 1117.7V1267V1242.1H1970.2V1142.6V1174.6L1973.8 1124.8V1242.1V1163.9L1977.4 1242.1V1131.9V1302.6V1153.2L1980.9 1174.6V1220.8V1153.2V1220.8L1984.5 1267V1131.9V1163.9L1988 1242.1V1131.9V1142.6L1991.6 1220.8V1267V1153.2V1203L1995.1 1220.8V1131.9V1302.6V1163.9L1998.7 1242.1V1142.6V1267L2002.2 1163.9V1153.2V1242.1V1163.9L2005.8 1203V1174.6V1348.8V1174.6L2009.4 1203V1163.9V1302.6V1203L2012.9 1220.8V1267V1103.4L2016.5 1153.2V1302.6V1117.7L2020 1188.8V1153.2V1348.8V1203H2023.6V1153.2V1267V1163.9L2027.1 1220.8V1131.9V1348.8V1220.8L2030.7 1203V1242.1V1089.2V1174.6L2034.2 1220.8V1163.9V1267V1163.9L2037.8 1188.8V1348.8V1174.6V1203L2041.4 1188.8V1117.7V1427V1174.6L2044.9 1220.8V1131.9V1302.6V1174.6L2048.5 1267V1174.6V1302.6V1242.1L2052 1188.8V1163.9V1302.6L2055.6 1267V1174.6V1242.1L2059.1 1203V1220.8V1153.2V1188.8L2062.7 1302.6V1188.8V1220.8L2066.2 1188.8V1302.6V1131.9L2069.8 1220.8V1267V1174.6L2073.4 1267V1302.6V1153.2V1220.8H2076.9V1124.8V1348.8V1163.9L2080.5 1220.8V1267V1153.2V1242.1L2084 1174.6V1131.9V1267V1153.2L2087.6 1267V1174.6L2091.1 1267V1302.6V1153.2V1174.6L2094.7 1220.8V1302.6V1163.9V1267L2098.2 1188.8V1153.2V1348.8V1242.1L2101.8 1220.8V1124.8V1267V1174.6L2105.4 1142.6V1348.8V1096.3V1220.8L2108.9 1203V1153.2V1302.6V1163.9L2112.5 1267V1302.6V1153.2V1203H2116V1242.1V1142.6L2119.6 1174.6V1302.6V1163.9V1267L2123.1 1348.8V1153.2V1203L2126.7 1188.8V1302.6V1142.6L2130.2 1153.2V1348.8V1103.4V1203L2133.8 1302.6V1124.8V1220.8L2137.4 1142.6V1131.9V1302.6V1267L2140.9 1220.8V1131.9V1348.8V1302.6L2144.5 1220.8V1348.8V1174.6L2148 1267V1142.6V1242.1L2151.6 1188.8V1267V1174.6L2155.1 1348.8V1142.6V1203H2158.7V1348.8V1142.6V1203H2162.2V1153.2V1220.8L2165.8 1242.1V1153.2V1267V1242.1L2169.4 1220.8V1267V1153.2V1220.8H2172.9V1153.2V1267V1188.8"/>
<path stroke="#FF0000" d="M292 1302.6V1427L295.6 1348.8V1427V1242.1V1427H299.1V1267V1427L302.7 1302.6V1427V1302.6L306.2 1348.8V1427V1267V1427L309.8 1348.8V1427H313.3V1302.6V1427H316.9V1267V1348.8H320.4V1427V1267L324 1427V1348.8V1427H327.6V1302.6V1427H331.1V1302.6V1427L334.7 1302.6V1427H338.2V1302.6V1427H341.8V1302.6L345.3 1427V1348.8V1427H348.9V1302.6V1427H352.4V1302.6L356 1427V1302.6V1427H359.6V1302.6L363.1 1348.8V1427V1267V1427L366.7 957.7V623.4L370.2 612.8V541.7L373.8 531V491.9H377.3V463.4L380.9 456.3V438.5L384.4 435V417.2H388V403L391.6 399.4V388.8V392.3L395.1 388.8V374.5V378.1L398.7 374.5V367.4H402.2V356.8L405.8 360.3V349.7H409.3V342.5L412.9 339V342.5V335.4L416.4 331.9V335.4V328.3L420 331.9V321.2V324.8H423.6V317.7H427.1V314.1H430.7V307L434.2 310.5V303.4V307H437.8V299.9V303.4L441.3 299.9V303.4V299.9H444.9V303.4H448.4V307H452V310.5L455.6 314.1V310.5V317.7H459.1V321.2H462.7V324.8H466.2V328.3L469.8 331.9H473.3V339L476.9 342.5V339V342.5H480.4V349.7L484 346.1V353.2L487.6 349.7V356.8H491.1V360.3H494.7V363.9V360.3H498.2V367.4H501.8V363.9V371H505.3V367.4V374.5V371L508.9 374.5V378.1H512.4V374.5V381.7V378.1L516 381.7V385.2H519.6V392.3H523.1V388.8V392.3L526.7 395.9V392.3V399.4L530.2 395.9V403H533.8V399.4V410.1L537.3 406.5V413.7V410.1L540.9 413.7V410.1V417.2H544.4V420.8V417.2L548 420.8V427.9V424.3L551.6 427.9V424.3V427.9H555.1V435H558.7V438.5L562.2 442.1V438.5V442.1H565.8V445.7L569.3 442.1V452.8L572.9 449.2V456.3V452.8L576.4 456.3V452.8V463.4V456.3L580 459.9V463.4V459.9L583.6 463.4V470.5L587.1 467V470.5L590.7 474.1V470.5V477.7L594.2 474.1V481.2V477.7L597.8 481.2V477.7V484.8L601.3 481.2V488.3H604.9V491.9L608.4 495.4V491.9V499V495.4L612 499V495.4V502.5H615.6V499V506.1V502.5H619.1V513.2V509.7H622.7V516.8V513.2L626.2 516.8V513.2V516.8H629.8V513.2V527.4V520.3L633.3 523.9V527.4V520.3L636.9 527.4V523.9V534.5V531H640.4V538.1L644 531V541.7L647.6 538.1V545.2L651.1 541.7V552.3L654.7 545.2V552.3L658.2 548.8V559.4V555.9H661.8V552.3V559.4L665.3 563V566.5V563L668.9 559.4V566.5L672.4 577.2V566.5V570.1L676 573.7V570.1V577.2V570.1L679.6 580.8V573.7V577.2L683.1 580.8V577.2V587.9V580.8L686.7 584.3V591.4L690.2 587.9V598.5V587.9L693.8 595V602.1V595L697.3 598.5V595V602.1L700.9 598.5V609.2L704.4 605.7V602.1V609.2V605.7L708 612.8V605.7V616.3L711.6 612.8V605.7V619.9V616.3L715.1 623.4V609.2V623.4L718.7 627V619.9L722.2 623.4V634.1V630.5H725.8V634.1V627V634.1L729.3 630.5V627V641.2V637.7L732.9 634.1V644.8V637.7L736.5 648.3V637.7V651.9V648.3L740 644.8V641.2V651.9L743.6 648.3V641.2V651.9V648.3L747.1 651.9V659L750.7 662.5V655.4V662.5H754.2V655.4V669.7V662.5L757.8 666.1V655.4V676.8V659L761.3 666.1V662.5V680.3L764.9 666.1V680.3V676.8L768.5 669.7V680.3V676.8H772V673.2V691V683.9L775.6 687.4V676.8V698.1V680.3L779.1 683.9V694.5V680.3V691L782.7 683.9V701.7L786.2 691V705.2L789.8 694.5V712.3L793.3 701.7V708.8V698.1V701.7H796.9V708.8L800.5 712.3V705.2V719.4V712.3L804 708.8V726.5V723L807.6 719.4V712.3V723L811.1 708.8V730.1V726.5L814.7 723V737.2V733.7L818.2 726.5V737.2V730.1L821.8 726.5V747.9V737.2L825.3 719.4V747.9V740.8H828.9V730.1V751.4V747.9L832.5 762.1V737.2V744.3L836 758.5V740.8V744.3L839.6 740.8V758.5V751.4L843.1 758.5V769.2V744.3V751.4H846.7V769.2V758.5L850.2 755V776.3V765.7L853.8 769.2V751.4V779.9V758.5L857.3 765.7V758.5V776.3V772.8H860.9V758.5V779.9L864.5 776.3V787V762.1V783.4L868 776.3V765.7V787V776.3L871.6 783.4V787V776.3V787L875.1 772.8V804.8V794.1L878.7 787V783.4V801.2V794.1L882.2 790.5V804.8V783.4V787L885.8 794.1V804.8V779.9V804.8L889.3 794.1V808.3V779.9L892.9 787V815.4V801.2L896.5 794.1V811.9V804.8H900V794.1V815.4V811.9L903.6 819V826.1V794.1V811.9L907.1 808.3V794.1V826.1V811.9L910.7 808.3V822.5V815.4H914.2V808.3V833.2V819L917.8 815.4V822.5V808.3V822.5L921.3 808.3V829.7V819L924.9 811.9V843.9L928.5 851V822.5V836.8L932 833.2V819V854.5V829.7L935.6 822.5V833.2L939.1 858.1V822.5V833.2L942.7 847.4V829.7V851L946.2 840.3V833.2V854.5V833.2L949.8 851V865.2V826.1V851L953.3 843.9V865.2V829.7V854.5L956.9 843.9V865.2V836.8V858.1L960.5 861.7V875.9V843.9V851L964 858.1V868.8V843.9V861.7H967.6V851V872.3V865.2L971.1 851V875.9V843.9V847.4L974.7 858.1V851V883V872.3H978.2V879.4V854.5V858.1L981.8 861.7V851V897.2L985.3 879.4V861.7V897.2V886.5L988.9 865.2V890.1L992.5 875.9V865.2V886.5L996 872.3V900.8V861.7L999.6 893.7V868.8V918.5V875.9L1003.1 893.7V900.8V875.9V900.8L1006.7 886.5V918.5V872.3V886.5L1010.2 890.1V868.8V900.8V883H1013.8V915V890.1L1017.3 897.2V883V918.5L1020.9 893.7V918.5V883V915L1024.5 907.9V886.5V907.9L1028 918.5V890.1V932.8V897.2L1031.6 900.8V886.5V918.5V897.2L1035.1 915V929.2V897.2V907.9L1038.7 911.4V925.7V890.1V925.7L1042.2 907.9V954.1V900.8V922.1L1045.8 904.3V900.8V929.2V922.1L1049.3 904.3V900.8V932.8V904.3L1052.9 929.2V939.9V911.4V929.2L1056.5 943.4V904.3V936.3L1060 925.7V918.5V947V932.8L1063.6 915V939.9V929.2L1067.1 932.8V954.1V922.1V925.7L1070.7 922.1V939.9V936.3L1074.2 932.8V947V925.7L1077.8 950.5V922.1V982.5L1081.3 947V911.4V964.8L1084.9 925.7V982.5V922.1V964.8L1088.5 929.2V964.8V950.5L1092 954.1V971.9V915V954.1L1095.6 964.8V929.2V993.2V986.1L1099.1 975.4V932.8V989.7V939.9H1102.7V975.4V936.3L1106.2 964.8V975.4V943.4L1109.8 947V1007.4V925.7V964.8L1113.3 961.2V982.5V947V964.8L1116.9 943.4V1003.9V964.8L1120.5 954.1V996.8L1124 968.3V939.9V982.5L1127.6 986.1V947V957.7L1131.1 979V957.7V996.8L1134.7 968.3V1011V954.1V1003.9L1138.2 975.4V968.3V1000.3L1141.8 968.3V947V989.7V961.2L1145.3 989.7V964.8V1014.6V982.5L1148.9 957.7V1046.6V961.2L1152.5 986.1V1014.6V947V993.2L1156 943.4V1014.6V989.7L1159.6 1014.6V1018.1V964.8V971.9L1163.1 989.7V1018.1V957.7V986.1L1166.7 1003.9V968.3V1014.6V986.1L1170.2 996.8V968.3V1018.1V1007.4L1173.8 993.2V989.7V1046.6L1177.3 1014.6V1050.1V993.2V1014.6L1180.9 989.7V1039.4V1018.1L1184.5 1003.9V1032.3V971.9V1007.4L1188 1014.6V989.7V1028.8V1007.4H1191.6V1050.1V1000.3V1011L1195.1 1014.6V1046.6V975.4V989.7L1198.7 1003.9V993.2V1039.4V1018.1L1202.2 1021.7V1028.8V1007.4L1205.8 1035.9V996.8V1018.1L1209.3 1035.9V1000.3V1050.1V1003.9L1212.9 1082.1V989.7V1028.8L1216.5 996.8V1082.1V1057.2L1220 1011V989.7V1050.1L1223.6 993.2V1064.3V1032.3L1227.1 1025.2V996.8V1067.9V1035.9L1230.7 1025.2V1078.6V996.8L1234.2 1032.3V1014.6V1064.3V1018.1L1237.8 1064.3V1025.2L1241.3 1035.9V1078.6V1007.4V1035.9L1244.9 1011V996.8V1067.9V1039.4L1248.5 1050.1V1067.9V1025.2V1053.7L1252 1018.1V1053.7V996.8V1014.6L1255.6 1007.4V1003.9V1089.2L1259.1 1071.4V1025.2V1096.3V1053.7L1262.7 1067.9V1071.4V1021.7L1266.2 1018.1V1078.6V1057.2L1269.8 1064.3V1032.3V1096.3V1064.3L1273.3 1046.6V1025.2V1082.1V1032.3L1276.9 1053.7V1032.3V1089.2V1046.6L1280.5 1039.4V1071.4V1014.6V1025.2L1284 1028.8V1082.1V1078.6L1287.6 1053.7V1035.9V1110.6V1039.4L1291.1 1050.1V1110.6V1071.4L1294.7 1110.6V1035.9L1298.2 1117.7V1018.1V1071.4L1301.8 1089.2V1021.7V1117.7L1305.3 1078.6V1117.7V1018.1V1082.1L1308.9 1124.8V1050.1V1096.3L1312.5 1057.2V1050.1V1110.6V1096.3L1316 1064.3V1039.4V1110.6V1078.6L1319.6 1117.7V1025.2V1103.4L1323.1 1064.3V1096.3V1053.7L1326.7 1096.3V1142.6V1064.3L1330.2 1053.7V1131.9V1117.7L1333.8 1067.9V1153.2V1050.1V1117.7L1337.3 1110.6V1124.8V1067.9V1117.7L1340.9 1064.3V1117.7V1103.4L1344.5 1082.1V1050.1V1124.8V1082.1L1348 1057.2V1131.9L1351.6 1046.6V1188.8V1064.3L1355.1 1067.9V1174.6V1163.9L1358.7 1096.3V1124.8V1053.7L1362.2 1103.4V1071.4V1131.9V1103.4L1365.8 1071.4V1124.8V1117.7L1369.3 1035.9V1142.6V1064.3L1372.9 1103.4V1057.2V1163.9V1096.3H1376.5V1067.9V1131.9V1096.3L1380 1153.2V1067.9V1131.9L1383.6 1082.1V1071.4V1174.6L1387.1 1131.9V1057.2V1174.6V1089.2L1390.7 1103.4V1131.9V1050.1V1103.4L1394.2 1071.4V1064.3V1163.9V1089.2L1397.8 1142.6V1110.6V1153.2V1117.7L1401.3 1096.3V1188.8V1089.2V1131.9L1404.9 1163.9V1174.6V1067.9V1153.2L1408.5 1131.9V1153.2V1064.3V1117.7L1412 1064.3V1188.8V1142.6L1415.6 1117.7V1163.9V1067.9L1419.1 1110.6V1242.1V1089.2V1110.6L1422.7 1124.8V1163.9V1053.7L1426.2 1110.6V1096.3V1203V1110.6L1429.8 1142.6V1067.9V1188.8V1103.4L1433.3 1153.2V1096.3V1124.8L1436.9 1110.6V1174.6V1082.1V1131.9L1440.5 1124.8V1163.9V1078.6L1444 1124.8V1153.2V1078.6V1103.4L1447.6 1067.9V1174.6V1110.6L1451.1 1089.2V1078.6V1174.6V1078.6L1454.7 1082.1V1174.6V1163.9L1458.2 1050.1V1174.6V1078.6L1461.8 1089.2V1220.8V1078.6V1142.6L1465.3 1103.4V1089.2V1153.2V1131.9L1468.9 1124.8V1174.6V1110.6V1153.2L1472.5 1124.8V1188.8V1071.4V1142.6L1476 1153.2V1096.3V1174.6V1110.6L1479.6 1103.4V1096.3V1203V1142.6L1483.1 1117.7V1082.1V1203V1131.9L1486.7 1153.2V1110.6V1174.6V1110.6L1490.2 1242.1V1096.3L1493.8 1117.7V1174.6V1089.2V1110.6L1497.3 1163.9V1117.7V1203V1142.6L1500.9 1103.4V1267V1131.9L1504.5 1174.6V1096.3V1203V1174.6L1508 1110.6V1174.6V1082.1V1117.7L1511.6 1124.8V1103.4V1163.9V1142.6L1515.1 1082.1V1220.8V1117.7L1518.7 1103.4V1174.6V1153.2L1522.2 1089.2V1174.6V1131.9L1525.8 1220.8V1082.1V1110.6L1529.3 1089.2V1071.4V1174.6V1124.8L1532.9 1220.8V1131.9V1188.8L1536.5 1174.6V1188.8V1124.8L1540 1153.2V1203V1110.6V1142.6L1543.6 1124.8V1203V1117.7V1153.2L1547.1 1103.4V1203V1142.6L1550.7 1220.8V1117.7V1124.8L1554.2 1220.8V1082.1V1174.6H1557.8V1096.3V1220.8V1142.6L1561.3 1110.6V1203L1564.9 1163.9V1089.2V1302.6V1242.1L1568.5 1220.8V1267V1103.4L1572 1117.7V1089.2V1242.1L1575.6 1203V1096.3V1267V1131.9L1579.1 1174.6V1096.3V1203L1582.7 1153.2V1110.6V1242.1L1586.2 1117.7V1082.1V1242.1L1589.8 1071.4V1267V1220.8L1593.3 1131.9V1163.9V1142.6L1596.9 1131.9V1124.8V1188.8H1600.5V1131.9V1302.6V1163.9L1604 1153.2V1267V1089.2V1142.6L1607.6 1117.7V1242.1V1078.6L1611.1 1142.6V1103.4V1267V1142.6L1614.7 1174.6V1220.8V1103.4V1110.6L1618.2 1174.6V1117.7V1220.8V1163.9L1621.8 1174.6V1117.7V1188.8V1153.2L1625.4 1131.9V1267V1110.6V1142.6H1628.9V1096.3V1188.8L1632.5 1203V1096.3V1124.8L1636 1220.8V1110.6V1188.8L1639.6 1203V1267V1124.8H1643.1V1110.6V1242.1V1142.6L1646.7 1174.6V1163.9V1267V1188.8L1650.2 1131.9V1242.1V1142.6L1653.8 1131.9V1103.4V1220.8V1188.8L1657.4 1220.8V1096.3V1242.1V1220.8L1660.9 1188.8V1153.2V1427V1163.9L1664.5 1124.8V1302.6V1174.6L1668 1163.9V1142.6V1242.1V1142.6L1671.6 1153.2V1117.7V1242.1V1153.2L1675.1 1203V1220.8V1124.8L1678.7 1117.7V1242.1L1682.2 1153.2V1220.8V1174.6L1685.8 1124.8V1103.4V1242.1L1689.4 1203V1131.9V1267L1692.9 1174.6V1124.8V1267V1174.6H1696.5V1096.3V1242.1V1103.4L1700 1302.6V1110.6V1242.1L1703.6 1174.6V1242.1V1131.9V1220.8L1707.1 1142.6V1124.8V1302.6V1163.9L1710.7 1203V1267V1142.6V1242.1L1714.2 1188.8V1142.6V1348.8L1717.8 1188.8V1220.8V1131.9V1188.8L1721.4 1174.6V1220.8V1131.9V1188.8L1724.9 1203V1103.4V1203L1728.5 1153.2V1142.6V1267V1163.9L1732 1188.8V1103.4V1267V1188.8H1735.6V1302.6V1131.9V1220.8H1739.1V1267V1163.9V1203L1742.7 1131.9V1220.8V1203L1746.2 1220.8V1131.9V1153.2L1749.8 1188.8V1142.6V1267V1163.9L1753.4 1242.1V1163.9V1174.6L1756.9 1203V1174.6V1267V1220.8H1760.5V1142.6V1267V1188.8H1764V1267V1153.2V1220.8L1767.6 1203V1302.6V1174.6V1188.8L1771.1 1203V1267V1153.2V1203L1774.7 1188.8V1220.8V1142.6V1203H1778.2V1302.6V1124.8V1203L1781.8 1117.7V1302.6V1153.2L1785.4 1188.8V1124.8V1220.8V1188.8L1788.9 1220.8V1142.6V1267V1174.6L1792.5 1188.8V1242.1V1163.9V1188.8L1796 1163.9V1220.8V1142.6V1153.2L1799.6 1220.8V1203V1302.6L1803.1 1220.8V1188.8V1267V1220.8L1806.7 1203V1142.6V1302.6V1188.8L1810.2 1267V1110.6V1131.9L1813.8 1220.8V1267V1163.9L1817.4 1153.2V1242.1V1142.6V1163.9L1820.9 1242.1V1427V1153.2V1242.1L1824.5 1302.6V1174.6V1220.8L1828 1142.6V1348.8V1124.8V1131.9L1831.6 1220.8V1163.9V1174.6L1835.1 1220.8V1131.9V1267V1163.9L1838.7 1242.1V1267V1131.9V1242.1L1842.2 1163.9V1302.6V1110.6V1203L1845.8 1242.1V1153.2V1242.1L1849.4 1142.6V1348.8V1124.8L1852.9 1131.9V1302.6V1242.1L1856.5 1188.8V1267V1142.6V1242.1L1860 1188.8V1117.7V1267V1188.8L1863.6 1203V1242.1V1153.2V1220.8L1867.1 1203V1242.1V1142.6V1174.6L1870.7 1163.9V1220.8V1188.8L1874.2 1242.1V1302.6V1153.2V1220.8L1877.8 1203V1267V1163.9V1174.6L1881.4 1153.2V1124.8V1302.6V1174.6L1884.9 1188.8V1302.6V1153.2V1163.9L1888.5 1203V1302.6V1153.2H1892V1302.6V1131.9V1188.8L1895.6 1163.9V1142.6V1348.8V1174.6L1899.1 1188.8V1302.6V1142.6V1302.6L1902.7 1174.6V1131.9V1203V1188.8L1906.2 1203V1242.1V1163.9V1220.8L1909.8 1188.8V1267V1153.2L1913.4 1174.6V1142.6V1242.1V1220.8L1916.9 1174.6V1163.9V1242.1L1920.5 1163.9V1267V1174.6L1924 1267V1153.2V1302.6V1220.8H1927.6V1267V1174.6V1242.1H1931.1V1131.9V1267V1220.8L1934.7 1242.1V1153.2V1302.6V1203L1938.2 1220.8V1153.2V1302.6V1242.1H1941.8V1153.2V1242.1L1945.4 1131.9V1427V1242.1L1948.9 1220.8V1302.6V1153.2V1188.8L1952.5 1203V1153.2V1348.8V1242.1L1956 1348.8V1142.6L1959.6 1267V1110.6V1348.8V1188.8H1963.1V1302.6V1153.2V1188.8L1966.7 1203V1163.9V1302.6L1970.2 1153.2V1267V1142.6V1267L1973.8 1188.8V1267V1220.8H1977.4V1131.9V1348.8L1980.9 1153.2V1302.6V1188.8L1984.5 1267V1174.6V1220.8H1988V1163.9V1242.1V1220.8L1991.6 1174.6V1142.6V1302.6V1267L1995.1 1188.8V1267V1153.2V1188.8L1998.7 1203V1267V1163.9V1203L2002.2 1163.9V1131.9V1242.1V1174.6L2005.8 1188.8V1267V1163.9V1220.8L2009.4 1163.9V1242.1V1131.9V1203L2012.9 1302.6V1163.9L2016.5 1188.8V1302.6V1267L2020 1203V1267V1142.6V1220.8L2023.6 1203V1153.2V1302.6V1188.8L2027.1 1174.6V1267V1131.9V1174.6L2030.7 1220.8V1302.6V1174.6V1302.6L2034.2 1220.8V1203V1267L2037.8 1203V1163.9V1348.8V1188.8H2041.4V1153.2V1302.6V1267L2044.9 1220.8V1302.6V1142.6L2048.5 1302.6V1163.9L2052 1188.8V1427V1142.6L2055.6 1188.8V1117.7V1220.8V1163.9L2059.1 1131.9V1267L2062.7 1220.8V1302.6V1153.2V1242.1L2066.2 1188.8V1163.9V1302.6V1220.8H2069.8V1153.2V1220.8L2073.4 1174.6V1302.6V1163.9V1188.8L2076.9 1203V1153.2V1267H2080.5V1131.9V1242.1L2084 1220.8V1174.6V1267V1174.6H2087.6V1163.9V1242.1V1174.6L2091.1 1220.8V1267V1163.9L2094.7 1267V1348.8V1153.2V1302.6L2098.2 1174.6V1302.6V1203L2101.8 1242.1V1163.9V1427L2105.4 1203V1348.8V1124.8V1242.1L2108.9 1267V1302.6V1188.8V1267L2112.5 1174.6V1267V1203L2116 1131.9V1302.6V1174.6L2119.6 1203V1267V1131.9L2123.1 1220.8V1163.9V1267V1174.6L2126.7 1188.8V1427V1174.6V1188.8L2130.2 1220.8V1131.9V1242.1L2133.8 1220.8V1163.9V1302.6V1220.8H2137.4V1302.6V1142.6V1302.6L2140.9 1203V1348.8V1163.9V1188.8L2144.5 1242.1V1348.8V1117.7V1348.8L2148 1174.6V1267V1188.8L2151.6 1174.6V1131.9V1348.8V1203L2155.1 1302.6V1142.6V1267L2158.7 1163.9V1302.6L2162.2 1242.1V1110.6V1163.9L2165.8 1242.1V1302.6V1163.9V1267L2169.4 1203V1163.9V1348.8V1220.8L2172.9 1142.6V1267V1174.6"/>
<path stroke="#0000A0" d="M292 1220.8V1348.8V1188.8V1220.8L295.6 1267V1163.9V1348.8V1163.9H299.1V1348.8V1302.6L302.7 1348.8V1082.1L306.2 1348.8V1163.9V1348.8H309.8V1163.9V1348.8L313.3 1302.6V1348.8V1142.6V1348.8L316.9 1242.1V1163.9V1302.6V1163.9H320.4V1348.8V1302.6L324 1348.8V1163.9V1348.8L327.6 1163.9V1427V1174.6L331.1 1348.8V1142.6V1242.1L334.7 1267V1348.8V1103.4V1163.9H338.2V1302.6V1203L341.8 1163.9V1302.6V1142.6V1188.8L345.3 1302.6V1163.9L348.9 1188.8V1302.6V1131.9L352.4 1302.6V1163.9V1203L356 1302.6V1110.6V1163.9H359.6V1302.6L363.1 1163.9V1302.6V1174.6L366.7 900.8V580.8L370.2 566.5V495.4L373.8 488.3V456.3L377.3 452.8V424.3V427.9L380.9 424.3V403H384.4V388.8H388V374.5H391.6V363.9L395.1 367.4V356.8V360.3L398.7 356.8V349.7H402.2V342.5H405.8V339H409.3V331.9H412.9V328.3H416.4V321.2L420 324.8V321.2H423.6V317.7L427.1 321.2V314.1H430.7V310.5H434.2V314.1V310.5H437.8V307V310.5H441.3V296.3V310.5H444.9V321.2L448.4 324.8V321.2V331.9H452V342.5V339L455.6 346.1V353.2L459.1 349.7V356.8H462.7V360.3V356.8L466.2 360.3V363.9L469.8 367.4V363.9V371V367.4H473.3V374.5H476.9V378.1H480.4V385.2V381.7H484V385.2H487.6V388.8L491.1 392.3V388.8V392.3L494.7 395.9V392.3V395.9H498.2V403V399.4H501.8V403L505.3 399.4V406.5H508.9V410.1H512.4V413.7H516V417.2H519.6V420.8V417.2L523.1 420.8V424.3V420.8L526.7 424.3V420.8V427.9V424.3L530.2 427.9V431.4L533.8 427.9V435L537.3 431.4V438.5H540.9V435V438.5H544.4V445.7H548V442.1V449.2V445.7H551.6V449.2L555.1 445.7V452.8L558.7 449.2V456.3V452.8L562.2 456.3V452.8V456.3H565.8V459.9V456.3L569.3 459.9V463.4H572.9V467V463.4H576.4V470.5H580V467V470.5H583.6V474.1V470.5L587.1 474.1V470.5V477.7H590.7V474.1V481.2V477.7H594.2V484.8V481.2H597.8V477.7V484.8H601.3V488.3L604.9 484.8V481.2V491.9V488.3L608.4 484.8V491.9H612V488.3V495.4L615.6 488.3V499L619.1 495.4V491.9V499V495.4H622.7V491.9V502.5H626.2V499V502.5L629.8 499V506.1L633.3 502.5V506.1L636.9 509.7V502.5V509.7L640.4 506.1V513.2V502.5V509.7H644V513.2V509.7H647.6V506.1V516.8L651.1 513.2V516.8V509.7V516.8H654.7V523.9V516.8L658.2 520.3V516.8V523.9V520.3H661.8V527.4V520.3L665.3 523.9V520.3V531V527.4L668.9 531V523.9V527.4H672.4V538.1L676 531V534.5L679.6 527.4V538.1L683.1 531V541.7L686.7 538.1V545.2V538.1H690.2V534.5V545.2H693.8V541.7V548.8V545.2L697.3 541.7V548.8H700.9V545.2V548.8H704.4V555.9L708 552.3V555.9V548.8L711.6 552.3V555.9H715.1V563V559.4L718.7 555.9V563V559.4L722.2 563V559.4V566.5L725.8 563V566.5V559.4V566.5H729.3V559.4V570.1V566.5H732.9V573.7V563V570.1H736.5V573.7V566.5V573.7L740 577.2V570.1L743.6 580.8V570.1V580.8L747.1 577.2V570.1V584.3V580.8H750.7V577.2V587.9V580.8H754.2V587.9L757.8 584.3V591.4V584.3L761.3 591.4V584.3V598.5V591.4L764.9 587.9V598.5V591.4L768.5 587.9V598.5V595H772V587.9V598.5L775.6 591.4V602.1V598.5L779.1 602.1V605.7V591.4V602.1L782.7 595V605.7V602.1L786.2 605.7V595V605.7L789.8 609.2V602.1V605.7L793.3 602.1V616.3L796.9 605.7V619.9V609.2L800.5 612.8V609.2V623.4V616.3H804V609.2V623.4L807.6 619.9V616.3V627V623.4L811.1 619.9V616.3V630.5V619.9H814.7V627H818.2V630.5V619.9V630.5L821.8 619.9V634.1V623.4L825.3 630.5V623.4V637.7V630.5H828.9V627V637.7V627H832.5V641.2V634.1L836 637.7V641.2V630.5L839.6 641.2V627V644.8V641.2L843.1 648.3V637.7V644.8L846.7 641.2V637.7V651.9V648.3L850.2 641.2V655.4V651.9L853.8 641.2V651.9L857.3 648.3V659V651.9L860.9 655.4V659V648.3V659L864.5 655.4V651.9V666.1V659L868 655.4V662.5L871.6 659V655.4V666.1L875.1 659V669.7V662.5L878.7 666.1V669.7V662.5V666.1L882.2 669.7V673.2V666.1V669.7L885.8 676.8V662.5V669.7H889.3V666.1V680.3L892.9 676.8V666.1V680.3V673.2L896.5 676.8V669.7V683.9V676.8L900 673.2V687.4V669.7V683.9L903.6 680.3V687.4V676.8V683.9L907.1 680.3V694.5L910.7 691V683.9V687.4H914.2V691V683.9V687.4L917.8 691V701.7V683.9V687.4H921.3V683.9V698.1V691L924.9 698.1V687.4V694.5H928.5V691V705.2V691H932V705.2V701.7L935.6 705.2V694.5V708.8V701.7L939.1 694.5V715.9V701.7L942.7 708.8V712.3V698.1V701.7L946.2 705.2V712.3V701.7V708.8L949.8 701.7V712.3V701.7L953.3 715.9V726.5V694.5V712.3H956.9V708.8V719.4L960.5 715.9V726.5V708.8V719.4H964V712.3V730.1L967.6 712.3V723V719.4L971.1 715.9V726.5V712.3V719.4L974.7 726.5V723V730.1V723L978.2 730.1V715.9V744.3V730.1L981.8 726.5V719.4V740.8V733.7L985.3 730.1V726.5V740.8V737.2H988.9V723V740.8V733.7H992.5V730.1V744.3V737.2L996 726.5V744.3V733.7H999.6V744.3V730.1L1003.1 733.7V730.1V755V744.3H1006.7V751.4V733.7V751.4L1010.2 740.8V737.2V758.5L1013.8 747.9V740.8V758.5L1017.3 751.4V762.1V740.8V751.4L1020.9 758.5V747.9L1024.5 751.4V744.3V769.2L1028 758.5V762.1V747.9V758.5L1031.6 769.2V747.9V762.1L1035.1 758.5V769.2V762.1L1038.7 776.3V758.5V765.7L1042.2 762.1V776.3V758.5L1045.8 779.9V758.5V765.7L1049.3 762.1V772.8V762.1L1052.9 776.3V765.7V779.9L1056.5 776.3V765.7V783.4V772.8L1060 776.3V769.2V783.4L1063.6 765.7V794.1V779.9H1067.1V765.7V787V783.4L1070.7 787V779.9V797.7V787L1074.2 776.3V794.1V790.5L1077.8 794.1V797.7V783.4V787L1081.3 772.8V797.7V790.5L1084.9 797.7V783.4V804.8V794.1L1088.5 804.8V811.9V783.4L1092 801.2V783.4V815.4V790.5L1095.6 804.8V790.5V811.9V804.8L1099.1 801.2V815.4V797.7L1102.7 794.1V787V815.4V804.8L1106.2 797.7V790.5V819V808.3L1109.8 801.2V819V801.2L1113.3 811.9V822.5V801.2V808.3L1116.9 794.1V826.1V804.8L1120.5 822.5V804.8V826.1V808.3L1124 815.4V794.1V822.5V815.4H1127.6V840.3V822.5H1131.1V815.4V833.2V819H1134.7V833.2V804.8V811.9L1138.2 826.1V833.2V808.3V829.7L1141.8 826.1V815.4V840.3V822.5L1145.3 847.4V819V822.5L1148.9 833.2V851V822.5V826.1L1152.5 840.3V851V819L1156 833.2V836.8V822.5V833.2L1159.6 843.9V861.7V815.4V840.3H1163.1V847.4V822.5L1166.7 843.9V826.1V851L1170.2 833.2V851V843.9L1173.8 833.2V861.7V843.9L1177.3 854.5V868.8V826.1V843.9L1180.9 836.8V865.2V840.3L1184.5 826.1V872.3V840.3L1188 858.1V847.4V872.3V854.5L1191.6 851V840.3V872.3V847.4L1195.1 865.2V840.3V879.4V854.5L1198.7 847.4V875.9V843.9V865.2L1202.2 868.8V858.1V879.4L1205.8 890.1V843.9V872.3L1209.3 875.9V861.7V872.3L1212.9 865.2V879.4V851V872.3L1216.5 858.1V893.7V886.5L1220 865.2V904.3V890.1L1223.6 886.5V861.7V900.8L1227.1 872.3V861.7V875.9V868.8L1230.7 879.4V868.8V893.7V872.3L1234.2 897.2V868.8V886.5L1237.8 872.3V854.5V900.8V872.3L1241.3 883V868.8V904.3V879.4H1244.9V861.7V886.5H1248.5V900.8V861.7V883L1252 879.4V872.3V897.2V879.4L1255.6 875.9V904.3V900.8L1259.1 911.4V875.9V904.3L1262.7 879.4V922.1L1266.2 883V915V875.9V897.2L1269.8 900.8V883V911.4V890.1L1273.3 907.9V875.9V922.1V904.3L1276.9 918.5V893.7V929.2V907.9L1280.5 890.1V883V915V904.3L1284 900.8V915V886.5V900.8L1287.6 911.4V886.5V929.2V915L1291.1 932.8V897.2V904.3L1294.7 890.1V932.8V915L1298.2 907.9V890.1V925.7V915L1301.8 911.4V897.2V932.8V907.9L1305.3 922.1V907.9V936.3V922.1L1308.9 929.2V904.3V936.3V911.4L1312.5 900.8V929.2L1316 922.1V915V943.4V929.2L1319.6 907.9V947L1323.1 904.3V947V918.5L1326.7 936.3V915V954.1V943.4L1330.2 918.5V950.5V915V922.1L1333.8 939.9V907.9V939.9L1337.3 929.2V922.1V961.2V932.8L1340.9 939.9V922.1V968.3V943.4L1344.5 929.2V975.4V936.3L1348 932.8V954.1V904.3L1351.6 911.4V968.3L1355.1 947V915V982.5L1358.7 947V925.7V961.2V954.1L1362.2 939.9V929.2V982.5L1365.8 947V929.2V968.3V939.9L1369.3 947V932.8V982.5V943.4L1372.9 975.4V929.2L1376.5 947V925.7V968.3V947L1380 989.7V932.8V947L1383.6 971.9V925.7V996.8V961.2L1387.1 957.7V939.9V971.9V961.2L1390.7 989.7V936.3V982.5L1394.2 968.3V957.7V1000.3V975.4L1397.8 950.5V986.1V975.4L1401.3 968.3V996.8V957.7V964.8L1404.9 989.7V957.7V996.8L1408.5 957.7V1007.4V939.9V1003.9L1412 964.8V993.2V947V982.5L1415.6 968.3V1007.4V957.7L1419.1 982.5V950.5V989.7V975.4L1422.7 1007.4V971.9V1028.8V971.9L1426.2 979V964.8V1007.4L1429.8 975.4V1003.9V961.2V975.4L1433.3 1014.6V968.3V982.5L1436.9 993.2V1021.7V961.2L1440.5 996.8V1028.8V964.8V996.8L1444 1014.6V1018.1V964.8L1447.6 971.9V961.2V1014.6V996.8L1451.1 982.5V964.8V1025.2V971.9L1454.7 1021.7V1025.2V979V986.1L1458.2 1021.7V1028.8V993.2V1014.6L1461.8 1011V1018.1V979L1465.3 996.8V979V1025.2V1003.9L1468.9 957.7V1039.4V1011L1472.5 1007.4V961.2V1028.8H1476V986.1V1025.2L1479.6 1000.3V1035.9V996.8V1018.1L1483.1 1011V982.5V1046.6L1486.7 996.8V971.9V1039.4L1490.2 979V1046.6V1039.4L1493.8 1035.9V1053.7V989.7L1497.3 1018.1V989.7V1028.8V1021.7L1500.9 1000.3V982.5V1039.4V986.1L1504.5 1003.9V989.7V1078.6V1035.9H1508V1064.3V989.7V993.2L1511.6 1011V996.8V1064.3V1028.8L1515.1 1035.9V1057.2V975.4V1018.1L1518.7 996.8V993.2V1057.2V1021.7L1522.2 1003.9V1071.4V1067.9L1525.8 1018.1V1053.7V1011V1028.8H1529.3V1011V1050.1V1028.8L1532.9 996.8V989.7V1067.9V1035.9L1536.5 1032.3V1014.6V1057.2V1025.2L1540 1028.8V1050.1V1011V1018.1L1543.6 1021.7V1082.1V996.8V1025.2L1547.1 1000.3V1053.7V1018.1L1550.7 1050.1V1078.6V986.1L1554.2 1039.4V1046.6V989.7V996.8L1557.8 1053.7V1014.6V1028.8L1561.3 1021.7V1078.6V1014.6V1053.7L1564.9 1028.8V1064.3V1025.2L1568.5 1032.3V1011V1078.6L1572 1046.6V1014.6V1082.1V1021.7L1575.6 1064.3V1021.7V1071.4V1046.6L1579.1 1014.6V1003.9V1071.4V1064.3L1582.7 1035.9V1103.4V1007.4V1067.9L1586.2 1064.3V1089.2V1025.2V1046.6L1589.8 1000.3V1067.9V1035.9L1593.3 1050.1V1064.3V996.8V1035.9L1596.9 1014.6V1071.4L1600.5 1032.3V1103.4V1018.1L1604 1046.6V1053.7V1014.6V1021.7L1607.6 1035.9V1110.6V1014.6V1053.7L1611.1 1050.1V1018.1V1078.6V1067.9L1614.7 1053.7V1025.2V1082.1V1053.7L1618.2 1067.9V1021.7V1071.4V1025.2L1621.8 1053.7V1028.8V1082.1L1625.4 1089.2V1110.6V1046.6H1628.9V1021.7V1078.6V1035.9L1632.5 1057.2V1021.7V1096.3V1032.3L1636 1096.3V1014.6V1103.4L1639.6 1064.3V1046.6V1103.4V1089.2L1643.1 1078.6V1131.9V1032.3V1082.1L1646.7 1067.9V1032.3V1103.4H1650.2V1131.9V1050.1L1653.8 1096.3V1103.4V1039.4V1078.6L1657.4 1082.1V1110.6V1021.7V1064.3L1660.9 1050.1V1046.6V1124.8V1050.1L1664.5 1096.3V1046.6V1117.7V1046.6L1668 1082.1V1053.7V1096.3V1067.9L1671.6 1057.2V1124.8V1046.6L1675.1 1067.9V1035.9V1131.9V1096.3L1678.7 1124.8V1035.9V1064.3L1682.2 1050.1V1117.7V1028.8V1046.6L1685.8 1110.6V1039.4V1124.8V1078.6L1689.4 1082.1V1032.3V1124.8L1692.9 1046.6V1014.6V1103.4V1032.3L1696.5 1050.1V1188.8V1110.6L1700 1035.9V1117.7V1082.1L1703.6 1057.2V1124.8V1096.3L1707.1 1110.6V1142.6V1053.7V1071.4L1710.7 1103.4V1124.8V1071.4V1078.6L1714.2 1096.3V1153.2V1035.9V1110.6L1717.8 1078.6V1050.1V1142.6V1103.4L1721.4 1089.2V1046.6V1163.9L1724.9 1067.9V1163.9V1057.2V1110.6L1728.5 1103.4V1117.7V1067.9V1071.4L1732 1103.4V1071.4V1153.2V1089.2L1735.6 1174.6V1039.4V1142.6L1739.1 1078.6V1163.9V1071.4L1742.7 1078.6V1174.6V1103.4L1746.2 1035.9V1117.7V1103.4L1749.8 1124.8V1142.6V1071.4V1096.3L1753.4 1082.1V1117.7V1064.3V1078.6L1756.9 1110.6V1053.7V1142.6V1053.7L1760.5 1082.1V1064.3V1131.9V1089.2L1764 1096.3V1067.9V1153.2V1096.3L1767.6 1082.1V1053.7V1220.8V1124.8L1771.1 1153.2V1082.1V1089.2H1774.7V1117.7V1039.4L1778.2 1117.7V1067.9V1188.8V1131.9L1781.8 1067.9V1124.8V1064.3V1071.4L1785.4 1117.7V1096.3V1203V1096.3L1788.9 1142.6V1153.2V1067.9V1153.2L1792.5 1110.6V1188.8V1117.7L1796 1124.8V1142.6V1078.6V1117.7L1799.6 1053.7V1153.2V1110.6L1803.1 1064.3V1203V1117.7L1806.7 1089.2V1078.6V1163.9L1810.2 1117.7V1142.6V1067.9V1089.2L1813.8 1096.3V1174.6V1078.6V1153.2H1817.4V1096.3V1117.7L1820.9 1131.9V1188.8V1071.4V1096.3L1824.5 1082.1V1064.3V1142.6V1089.2L1828 1124.8V1089.2V1142.6V1124.8L1831.6 1142.6V1071.4L1835.1 1110.6V1067.9V1153.2L1838.7 1089.2V1067.9V1242.1V1131.9L1842.2 1163.9V1057.2L1845.8 1103.4V1174.6V1117.7L1849.4 1142.6V1188.8V1078.6V1110.6L1852.9 1078.6V1174.6L1856.5 1096.3V1203V1082.1V1131.9L1860 1124.8V1089.2V1163.9V1096.3L1863.6 1131.9V1089.2V1124.8L1867.1 1057.2V1163.9V1142.6L1870.7 1117.7V1153.2V1078.6V1117.7L1874.2 1067.9V1203V1096.3L1877.8 1117.7V1174.6V1103.4V1142.6L1881.4 1117.7V1174.6V1071.4V1078.6L1884.9 1142.6V1163.9V1078.6V1142.6L1888.5 1153.2V1096.3V1110.6L1892 1117.7V1089.2V1163.9L1895.6 1124.8V1174.6V1089.2V1142.6L1899.1 1117.7V1131.9V1082.1V1117.7L1902.7 1131.9V1142.6V1089.2L1906.2 1174.6V1067.9V1124.8L1909.8 1078.6V1163.9V1124.8L1913.4 1110.6V1220.8V1082.1L1916.9 1131.9V1242.1V1110.6V1188.8L1920.5 1117.7V1242.1V1082.1V1203L1924 1174.6V1242.1V1096.3V1142.6H1927.6V1103.4V1188.8V1153.2L1931.1 1124.8V1082.1V1153.2L1934.7 1220.8V1071.4V1188.8L1938.2 1124.8V1089.2V1124.8L1941.8 1103.4V1188.8V1153.2L1945.4 1131.9V1267V1078.6V1142.6L1948.9 1163.9V1071.4V1188.8V1142.6H1952.5V1188.8V1089.2V1117.7L1956 1124.8V1174.6V1110.6V1153.2L1959.6 1082.1V1174.6V1124.8H1963.1V1153.2V1089.2L1966.7 1153.2V1163.9V1089.2L1970.2 1163.9V1071.4V1267V1103.4L1973.8 1131.9V1078.6V1188.8V1142.6L1977.4 1071.4V1267V1163.9L1980.9 1110.6V1163.9L1984.5 1110.6V1188.8V1089.2L1988 1174.6V1089.2V1203V1117.7L1991.6 1124.8V1078.6V1203V1131.9L1995.1 1188.8V1110.6H1998.7V1188.8V1071.4V1117.7H2002.2V1082.1V1203V1124.8L2005.8 1142.6V1089.2V1203V1103.4L2009.4 1142.6V1203V1096.3V1163.9L2012.9 1096.3V1220.8V1089.2V1142.6L2016.5 1124.8V1103.4V1220.8L2020 1174.6V1220.8V1110.6L2023.6 1188.8V1096.3V1163.9L2027.1 1131.9V1103.4V1203V1188.8L2030.7 1153.2V1103.4V1174.6L2034.2 1117.7V1071.4V1203V1124.8H2037.8V1163.9V1096.3V1153.2H2041.4V1220.8V1089.2V1131.9L2044.9 1142.6V1110.6V1188.8V1142.6L2048.5 1188.8V1267V1103.4V1203L2052 1163.9V1188.8V1089.2V1117.7L2055.6 1153.2V1188.8V1089.2V1188.8L2059.1 1096.3V1220.8V1163.9L2062.7 1142.6V1203V1089.2L2066.2 1174.6V1103.4V1242.1L2069.8 1267V1103.4V1220.8L2073.4 1124.8V1188.8V1110.6V1163.9L2076.9 1174.6V1267V1103.4L2080.5 1117.7V1174.6V1110.6V1142.6L2084 1124.8V1188.8V1153.2L2087.6 1124.8V1220.8V1096.3V1203L2091.1 1153.2V1220.8V1103.4L2094.7 1131.9V1089.2V1188.8V1163.9L2098.2 1131.9V1163.9V1071.4L2101.8 1174.6V1188.8V1124.8L2105.4 1174.6V1267V1089.2V1174.6L2108.9 1124.8V1302.6V1110.6V1203L2112.5 1153.2V1103.4V1174.6L2116 1117.7V1174.6V1153.2L2119.6 1142.6V1103.4V1203L2123.1 1188.8V1220.8V1103.4L2126.7 1096.3V1220.8V1188.8L2130.2 1124.8V1220.8V1203L2133.8 1188.8V1110.6V1203V1142.6L2137.4 1163.9V1203V1096.3V1124.8L2140.9 1131.9V1163.9V1153.2H2144.5V1096.3V1188.8V1096.3L2148 1131.9V1089.2V1267V1117.7L2151.6 1131.9V1242.1V1082.1L2155.1 1188.8V1103.4V1203V1103.4L2158.7 1142.6V1267V1110.6V1142.6L2162.2 1103.4V1174.6V1131.9L2165.8 1188.8V1131.9V1203V1188.8L2169.4 1142.6V1174.6V1103.4V1153.2L2172.9 1142.6V1174.6"/>
</g>
<filter id="th" x="0" y="0" width="2256" height="1669" filterUnits="userSpaceOnUse"><feComponentTransfer><feFuncA type="discrete" tableValues="0 1"/></feComponentTransfer></filter>
<rect x="1366" y="174" width="739" height="379.5" fill="#fff" stroke="#222" stroke-width="8" shape-rendering="crispEdges"/>
<path d="M1398 233 H1569" stroke="#FF0000" stroke-width="8" stroke-linecap="round" shape-rendering="crispEdges"/>
<text x="1590" y="264.6" font-size="85" filter="url(#th)" font-family="'Liberation Serif',serif">0.1% Tb:GPS</text>
<path d="M1398 317 H1569" stroke="#FF8000" stroke-width="8" stroke-linecap="round" shape-rendering="crispEdges"/>
<text x="1590" y="348.2" font-size="85" filter="url(#th)" font-family="'Liberation Serif',serif">0.5% Tb:GPS</text>
<path d="M1398 401 H1569" stroke="#00CC00" stroke-width="8" stroke-linecap="round" shape-rendering="crispEdges"/>
<text x="1590" y="431.8" font-size="85" filter="url(#th)" font-family="'Liberation Serif',serif">1.0% Tb:GPS</text>
<path d="M1398 484 H1569" stroke="#0000A0" stroke-width="8" stroke-linecap="round" shape-rendering="crispEdges"/>
<text x="1590" y="515.4" font-size="85" filter="url(#th)" font-family="'Liberation Serif',serif">2.0% Tb:GPS</text>
<g filter="url(#th)">
<text x="290.5" y="1513.8" font-size="112.5" text-anchor="middle" font-family="'Liberation Serif',serif">0</text>
<text x="666.7" y="1513.8" font-size="112.5" text-anchor="middle" font-family="'Liberation Serif',serif">10</text>
<text x="1042.9" y="1513.8" font-size="112.5" text-anchor="middle" font-family="'Liberation Serif',serif">20</text>
<text x="1419.1" y="1513.8" font-size="112.5" text-anchor="middle" font-family="'Liberation Serif',serif">30</text>
<text x="1795.3" y="1513.8" font-size="112.5" text-anchor="middle" font-family="'Liberation Serif',serif">40</text>
<text x="2171.5" y="1513.8" font-size="112.5" text-anchor="middle" font-family="'Liberation Serif',serif">50</text>
<text y="1457.9" font-size="112.5" font-family="'Liberation Serif',serif"><tspan x="123.5 177.5">10</tspan><tspan x="234.8" font-size="79.5" dy="-47.6">0</tspan></text>
<text y="1193.2" font-size="112.5" font-family="'Liberation Serif',serif"><tspan x="123.5 177.5">10</tspan><tspan x="234.8" font-size="79.5" dy="-47.6">1</tspan></text>
<text y="928.4" font-size="112.5" font-family="'Liberation Serif',serif"><tspan x="123.5 177.5">10</tspan><tspan x="234.8" font-size="79.5" dy="-47.6">2</tspan></text>
<text y="663.7" font-size="112.5" font-family="'Liberation Serif',serif"><tspan x="123.5 177.5">10</tspan><tspan x="234.8" font-size="79.5" dy="-47.6">3</tspan></text>
<text y="398.9" font-size="112.5" font-family="'Liberation Serif',serif"><tspan x="123.5 177.5">10</tspan><tspan x="234.8" font-size="79.5" dy="-47.6">4</tspan></text>
<text y="134.2" font-size="112.5" font-family="'Liberation Serif',serif"><tspan x="123.5 177.5">10</tspan><tspan x="234.8" font-size="79.5" dy="-47.6">5</tspan></text>
<text x="989.5" y="1622.6" font-size="112.5" letter-spacing="-1.45" font-family="'Liberation Serif',serif">Time (ms)</text>
<text transform="translate(103.3 1202.5) rotate(-90)" font-size="113" letter-spacing="-0.25" font-family="'Liberation Serif',serif">Intensity (arb. unit)</text>
</g>
</svg>
</body></html>
